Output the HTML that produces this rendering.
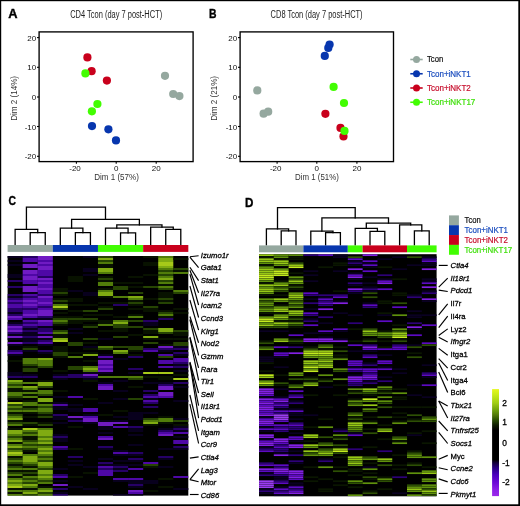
<!DOCTYPE html>
<html><head><meta charset="utf-8"><style>
html,body{margin:0;padding:0;background:#fff;}
body{width:520px;height:506px;overflow:hidden;font-family:"Liberation Sans",sans-serif;}
svg{display:block;will-change:transform;}
</style></head><body>
<svg width="520" height="506" viewBox="0 0 520 506">
<rect width="520" height="506" fill="#fff"/>
<g font-family="Liberation Sans, sans-serif">
<text x="8.3" y="17.7" font-size="12" fill="#000" font-weight="bold" textLength="9.3" lengthAdjust="spacingAndGlyphs" stroke="#000" stroke-width="0.35">A</text>
<text x="209.1" y="17.6" font-size="12" fill="#000" font-weight="bold" textLength="7.5" lengthAdjust="spacingAndGlyphs" stroke="#000" stroke-width="0.35">B</text>
<text x="8.5" y="205.2" font-size="12" fill="#000" font-weight="bold" textLength="7.5" lengthAdjust="spacingAndGlyphs" stroke="#000" stroke-width="0.35">C</text>
<text x="245.0" y="206.7" font-size="12" fill="#000" font-weight="bold" textLength="8.4" lengthAdjust="spacingAndGlyphs" stroke="#000" stroke-width="0.35">D</text>
<text x="70.2" y="17.5" font-size="10" fill="#222" textLength="92" lengthAdjust="spacingAndGlyphs">CD4 Tcon (day 7 post-HCT)</text>
<text x="270.6" y="17.5" font-size="10" fill="#222" textLength="92" lengthAdjust="spacingAndGlyphs">CD8 Tcon (day 7 post-HCT)</text>
<rect x="39.1" y="31.9" width="154.0" height="129.7" fill="none" stroke="#000" stroke-width="1.35"/>
<line x1="37.0" y1="37.6" x2="39.1" y2="37.6" stroke="#000" stroke-width="1.1"/>
<text x="36.2" y="40.7" font-size="8" fill="#111" text-anchor="end">20</text>
<line x1="37.0" y1="67.3" x2="39.1" y2="67.3" stroke="#000" stroke-width="1.1"/>
<text x="36.2" y="70.39999999999999" font-size="8" fill="#111" text-anchor="end">10</text>
<line x1="37.0" y1="97.0" x2="39.1" y2="97.0" stroke="#000" stroke-width="1.1"/>
<text x="36.2" y="100.1" font-size="8" fill="#111" text-anchor="end">0</text>
<line x1="37.0" y1="126.5" x2="39.1" y2="126.5" stroke="#000" stroke-width="1.1"/>
<text x="36.2" y="129.6" font-size="8" fill="#111" text-anchor="end">-10</text>
<line x1="37.0" y1="156.3" x2="39.1" y2="156.3" stroke="#000" stroke-width="1.1"/>
<text x="36.2" y="159.4" font-size="8" fill="#111" text-anchor="end">-20</text>
<line x1="76.4" y1="161.6" x2="76.4" y2="163.7" stroke="#000" stroke-width="1.1"/>
<text x="75.0" y="170.9" font-size="8" fill="#111" text-anchor="middle">-20</text>
<line x1="116.2" y1="161.6" x2="116.2" y2="163.7" stroke="#000" stroke-width="1.1"/>
<text x="116.2" y="170.9" font-size="8" fill="#111" text-anchor="middle">0</text>
<line x1="156.2" y1="161.6" x2="156.2" y2="163.7" stroke="#000" stroke-width="1.1"/>
<text x="156.2" y="170.9" font-size="8" fill="#111" text-anchor="middle">20</text>
<text x="94.2" y="180.2" font-size="9.4" fill="#333" textLength="44.7" lengthAdjust="spacingAndGlyphs">Dim 1 (57%)</text>
<text transform="translate(16.8,120.8) rotate(-90)" font-size="9.4" fill="#333" textLength="44.8" lengthAdjust="spacingAndGlyphs">Dim 2 (14%)</text>
<circle cx="165" cy="75.8" r="4.1" fill="#95a89f"/>
<circle cx="173.2" cy="94" r="4.1" fill="#95a89f"/>
<circle cx="179.4" cy="96.1" r="4.1" fill="#95a89f"/>
<circle cx="92" cy="126.1" r="4.1" fill="#0736ae"/>
<circle cx="108.4" cy="129.3" r="4.1" fill="#0736ae"/>
<circle cx="116" cy="140.4" r="4.1" fill="#0736ae"/>
<circle cx="87.4" cy="57.4" r="4.1" fill="#c9001c"/>
<circle cx="91.6" cy="71.2" r="4.1" fill="#c9001c"/>
<circle cx="106.9" cy="80.6" r="4.1" fill="#c9001c"/>
<circle cx="85.4" cy="73.4" r="4.1" fill="#42fd02"/>
<circle cx="97.4" cy="104" r="4.1" fill="#42fd02"/>
<circle cx="91.9" cy="111.3" r="4.1" fill="#42fd02"/>
<rect x="240.1" y="31.9" width="153.4" height="129.7" fill="none" stroke="#000" stroke-width="1.35"/>
<line x1="238.0" y1="37.6" x2="240.1" y2="37.6" stroke="#000" stroke-width="1.1"/>
<text x="237.2" y="40.7" font-size="8" fill="#111" text-anchor="end">20</text>
<line x1="238.0" y1="67.3" x2="240.1" y2="67.3" stroke="#000" stroke-width="1.1"/>
<text x="237.2" y="70.39999999999999" font-size="8" fill="#111" text-anchor="end">10</text>
<line x1="238.0" y1="97.0" x2="240.1" y2="97.0" stroke="#000" stroke-width="1.1"/>
<text x="237.2" y="100.1" font-size="8" fill="#111" text-anchor="end">0</text>
<line x1="238.0" y1="126.5" x2="240.1" y2="126.5" stroke="#000" stroke-width="1.1"/>
<text x="237.2" y="129.6" font-size="8" fill="#111" text-anchor="end">-10</text>
<line x1="238.0" y1="156.3" x2="240.1" y2="156.3" stroke="#000" stroke-width="1.1"/>
<text x="237.2" y="159.4" font-size="8" fill="#111" text-anchor="end">-20</text>
<line x1="277.1" y1="161.6" x2="277.1" y2="163.7" stroke="#000" stroke-width="1.1"/>
<text x="275.70000000000005" y="170.9" font-size="8" fill="#111" text-anchor="middle">-20</text>
<line x1="316.8" y1="161.6" x2="316.8" y2="163.7" stroke="#000" stroke-width="1.1"/>
<text x="316.8" y="170.9" font-size="8" fill="#111" text-anchor="middle">0</text>
<line x1="356.9" y1="161.6" x2="356.9" y2="163.7" stroke="#000" stroke-width="1.1"/>
<text x="356.9" y="170.9" font-size="8" fill="#111" text-anchor="middle">20</text>
<text x="295" y="180.2" font-size="9.4" fill="#333" textLength="43.8" lengthAdjust="spacingAndGlyphs">Dim 1 (51%)</text>
<text transform="translate(216.8,120.8) rotate(-90)" font-size="9.4" fill="#333" textLength="44.8" lengthAdjust="spacingAndGlyphs">Dim 2 (21%)</text>
<circle cx="257.3" cy="90.4" r="4.1" fill="#95a89f"/>
<circle cx="263.6" cy="113.7" r="4.1" fill="#95a89f"/>
<circle cx="268.2" cy="111.7" r="4.1" fill="#95a89f"/>
<circle cx="329.6" cy="44.6" r="4.1" fill="#0736ae"/>
<circle cx="328.3" cy="47.9" r="4.1" fill="#0736ae"/>
<circle cx="324.8" cy="55.9" r="4.1" fill="#0736ae"/>
<circle cx="325.4" cy="113.8" r="4.1" fill="#c9001c"/>
<circle cx="340.5" cy="127.9" r="4.1" fill="#c9001c"/>
<circle cx="343.5" cy="136.4" r="4.1" fill="#c9001c"/>
<circle cx="333.6" cy="86.9" r="4.1" fill="#42fd02"/>
<circle cx="344.0" cy="103.0" r="4.1" fill="#42fd02"/>
<circle cx="344.5" cy="130.9" r="4.1" fill="#42fd02"/>
<line x1="410.3" y1="59.5" x2="422.7" y2="59.5" stroke="#95a89f" stroke-width="1.6"/>
<circle cx="416.5" cy="59.5" r="3.5" fill="#95a89f"/>
<text x="427.0" y="62.3" font-size="8.8" fill="#111" textLength="16.2" lengthAdjust="spacingAndGlyphs" stroke="#111" stroke-width="0.22">Tcon</text>
<line x1="410.3" y1="73.75" x2="422.7" y2="73.75" stroke="#0736ae" stroke-width="1.6"/>
<circle cx="416.5" cy="73.75" r="3.5" fill="#0736ae"/>
<text x="427.0" y="76.55" font-size="8.8" fill="#1d4fbf" textLength="43.8" lengthAdjust="spacingAndGlyphs" stroke="#1d4fbf" stroke-width="0.22">Tcon+iNKT1</text>
<line x1="410.3" y1="88.0" x2="422.7" y2="88.0" stroke="#c9001c" stroke-width="1.6"/>
<circle cx="416.5" cy="88.0" r="3.5" fill="#c9001c"/>
<text x="427.0" y="90.8" font-size="8.8" fill="#c8102e" textLength="43.8" lengthAdjust="spacingAndGlyphs" stroke="#c8102e" stroke-width="0.22">Tcon+iNKT2</text>
<line x1="410.3" y1="102.25" x2="422.7" y2="102.25" stroke="#42fd02" stroke-width="1.6"/>
<circle cx="416.5" cy="102.25" r="3.5" fill="#42fd02"/>
<text x="427.0" y="105.05" font-size="8.8" fill="#44e010" textLength="48.3" lengthAdjust="spacingAndGlyphs" stroke="#44e010" stroke-width="0.22">Tcon+iNKT17</text>
<path d="M30.189999999999998,244.8V232.7H45.25V244.8" fill="none" stroke="#000" stroke-width="1.3" stroke-linecap="square"/>
<path d="M15.129999999999999,244.8V229.4H37.72V232.7" fill="none" stroke="#000" stroke-width="1.3" stroke-linecap="square"/>
<path d="M75.36999999999999,244.8V232.7H90.42999999999999V244.8" fill="none" stroke="#000" stroke-width="1.3" stroke-linecap="square"/>
<path d="M60.31,244.8V228.2H82.89999999999999V232.7" fill="none" stroke="#000" stroke-width="1.3" stroke-linecap="square"/>
<path d="M120.55,244.8V232.8H135.60999999999999V244.8" fill="none" stroke="#000" stroke-width="1.3" stroke-linecap="square"/>
<path d="M105.49,244.8V228.2H128.07999999999998V232.8" fill="none" stroke="#000" stroke-width="1.3" stroke-linecap="square"/>
<path d="M165.73,244.8V229.4H180.79V244.8" fill="none" stroke="#000" stroke-width="1.3" stroke-linecap="square"/>
<path d="M150.67,244.8V227.1H173.26V229.4" fill="none" stroke="#000" stroke-width="1.3" stroke-linecap="square"/>
<path d="M116.785,228.2V224.8H161.96499999999997V227.1" fill="none" stroke="#000" stroke-width="1.3" stroke-linecap="square"/>
<path d="M71.60499999999999,228.2V219.4H139.375V224.8" fill="none" stroke="#000" stroke-width="1.3" stroke-linecap="square"/>
<path d="M26.424999999999997,229.4V207.2H105.49V219.4" fill="none" stroke="#000" stroke-width="1.3" stroke-linecap="square"/>
<path d="M281.2,244.8V230.8H296.0V244.8" fill="none" stroke="#000" stroke-width="1.3" stroke-linecap="square"/>
<path d="M266.4,244.8V228.8H288.6V230.8" fill="none" stroke="#000" stroke-width="1.3" stroke-linecap="square"/>
<path d="M325.6,244.8V232.7H340.4V244.8" fill="none" stroke="#000" stroke-width="1.3" stroke-linecap="square"/>
<path d="M310.8,244.8V231.1H333.0V232.7" fill="none" stroke="#000" stroke-width="1.3" stroke-linecap="square"/>
<path d="M370.0,244.8V231.3H384.8V244.8" fill="none" stroke="#000" stroke-width="1.3" stroke-linecap="square"/>
<path d="M355.2,244.8V228.4H377.4V231.3" fill="none" stroke="#000" stroke-width="1.3" stroke-linecap="square"/>
<path d="M414.4,244.8V230.8H429.20000000000005V244.8" fill="none" stroke="#000" stroke-width="1.3" stroke-linecap="square"/>
<path d="M399.6,244.8V224.8H421.8V230.8" fill="none" stroke="#000" stroke-width="1.3" stroke-linecap="square"/>
<path d="M366.29999999999995,228.4V223.2H410.70000000000005V224.8" fill="none" stroke="#000" stroke-width="1.3" stroke-linecap="square"/>
<path d="M321.9,231.1V217.8H388.5V223.2" fill="none" stroke="#000" stroke-width="1.3" stroke-linecap="square"/>
<path d="M277.5,228.8V207.6H355.2V217.8" fill="none" stroke="#000" stroke-width="1.3" stroke-linecap="square"/>
<rect x="7.6" y="245.0" width="45.18" height="6.9" fill="#95a89f"/>
<rect x="52.78" y="245.0" width="45.18" height="6.9" fill="#0736ae"/>
<rect x="97.96" y="245.0" width="45.18" height="6.9" fill="#42fd02"/>
<rect x="143.14" y="245.0" width="45.18" height="6.9" fill="#c9001c"/>
<rect x="259.0" y="245.4" width="44.4" height="6.9" fill="#95a89f"/>
<rect x="303.4" y="245.4" width="44.4" height="6.9" fill="#0736ae"/>
<rect x="347.8" y="245.4" width="14.8" height="6.9" fill="#42fd02"/>
<rect x="362.6" y="245.4" width="44.4" height="6.9" fill="#c9001c"/>
<rect x="407.0" y="245.4" width="29.6" height="6.9" fill="#42fd02"/>
<rect x="7.6" y="256.0" width="180.72" height="239.6" fill="#000"/>
<rect x="7.6" y="256.15" width="15.11" height="1.7" fill="#0a0022"/>
<rect x="7.6" y="260.15" width="15.11" height="1.7" fill="#0a0022"/>
<rect x="7.6" y="264.15" width="15.11" height="1.7" fill="#0a0022"/>
<rect x="7.6" y="274.15" width="15.11" height="1.7" fill="#0a0022"/>
<rect x="7.6" y="276.15" width="15.11" height="1.7" fill="#0a0022"/>
<rect x="7.6" y="280.15" width="15.11" height="1.7" fill="#2d0078"/>
<rect x="7.6" y="286.15" width="15.11" height="1.7" fill="#2d0078"/>
<rect x="7.6" y="294.15" width="15.11" height="1.7" fill="#2d0078"/>
<rect x="7.6" y="296.15" width="15.11" height="1.7" fill="#0a0022"/>
<rect x="7.6" y="298.15" width="15.11" height="1.7" fill="#2d0078"/>
<rect x="7.6" y="300.15" width="15.11" height="1.7" fill="#5c0ac3"/>
<rect x="7.6" y="302.15" width="15.11" height="1.7" fill="#2d0078"/>
<rect x="7.6" y="304.15" width="15.11" height="1.7" fill="#5c0ac3"/>
<rect x="7.6" y="306.15" width="15.11" height="1.7" fill="#5c0ac3"/>
<rect x="7.6" y="308.15" width="15.11" height="1.7" fill="#2d0078"/>
<rect x="7.6" y="310.15" width="15.11" height="1.7" fill="#2d0078"/>
<rect x="7.6" y="312.15" width="15.11" height="1.7" fill="#0a0022"/>
<rect x="7.6" y="314.15" width="15.11" height="1.7" fill="#2d0078"/>
<rect x="7.6" y="316.15" width="15.11" height="1.7" fill="#8320e4"/>
<rect x="7.6" y="318.15" width="15.11" height="1.7" fill="#5c0ac3"/>
<rect x="7.6" y="322.15" width="15.11" height="1.7" fill="#0a0022"/>
<rect x="7.6" y="324.15" width="15.11" height="1.7" fill="#2d0078"/>
<rect x="7.6" y="326.15" width="15.11" height="1.7" fill="#8320e4"/>
<rect x="7.6" y="328.15" width="15.11" height="1.7" fill="#5c0ac3"/>
<rect x="7.6" y="330.15" width="15.11" height="1.7" fill="#8320e4"/>
<rect x="7.6" y="332.15" width="15.11" height="1.7" fill="#2d0078"/>
<rect x="7.6" y="334.15" width="15.11" height="1.7" fill="#0a0022"/>
<rect x="7.6" y="336.15" width="15.11" height="1.7" fill="#8320e4"/>
<rect x="7.6" y="338.15" width="15.11" height="1.7" fill="#0a0022"/>
<rect x="7.6" y="342.15" width="15.11" height="1.7" fill="#8320e4"/>
<rect x="7.6" y="344.15" width="15.11" height="1.7" fill="#0a0022"/>
<rect x="7.6" y="350.15" width="15.11" height="1.7" fill="#2d0078"/>
<rect x="7.6" y="352.15" width="15.11" height="1.7" fill="#5c0ac3"/>
<rect x="7.6" y="354.15" width="15.11" height="1.7" fill="#0a0022"/>
<rect x="7.6" y="360.15" width="15.11" height="1.7" fill="#0a1600"/>
<rect x="7.6" y="372.15" width="15.11" height="1.7" fill="#0a0022"/>
<rect x="7.6" y="374.15" width="15.11" height="1.7" fill="#0a0022"/>
<rect x="7.6" y="376.15" width="15.11" height="1.7" fill="#2d0078"/>
<rect x="7.6" y="380.15" width="15.11" height="1.7" fill="#96c816"/>
<rect x="7.6" y="382.15" width="15.11" height="1.7" fill="#5f910c"/>
<rect x="7.6" y="384.15" width="15.11" height="1.7" fill="#2d5004"/>
<rect x="7.6" y="386.15" width="15.11" height="1.7" fill="#5f910c"/>
<rect x="7.6" y="388.15" width="15.11" height="1.7" fill="#0a1600"/>
<rect x="7.6" y="390.15" width="15.11" height="1.7" fill="#0a1600"/>
<rect x="7.6" y="392.15" width="15.11" height="1.7" fill="#5f910c"/>
<rect x="7.6" y="394.15" width="15.11" height="1.7" fill="#5f910c"/>
<rect x="7.6" y="396.15" width="15.11" height="1.7" fill="#2d5004"/>
<rect x="7.6" y="398.15" width="15.11" height="1.7" fill="#0a1600"/>
<rect x="7.6" y="402.15" width="15.11" height="1.7" fill="#c3eb1e"/>
<rect x="7.6" y="404.15" width="15.11" height="1.7" fill="#2d5004"/>
<rect x="7.6" y="406.15" width="15.11" height="1.7" fill="#5f910c"/>
<rect x="7.6" y="408.15" width="15.11" height="1.7" fill="#2d5004"/>
<rect x="7.6" y="410.15" width="15.11" height="1.7" fill="#5f910c"/>
<rect x="7.6" y="412.15" width="15.11" height="1.7" fill="#0a1600"/>
<rect x="7.6" y="414.15" width="15.11" height="1.7" fill="#2d5004"/>
<rect x="7.6" y="416.15" width="15.11" height="1.7" fill="#5f910c"/>
<rect x="7.6" y="418.15" width="15.11" height="1.7" fill="#96c816"/>
<rect x="7.6" y="420.15" width="15.11" height="1.7" fill="#0a1600"/>
<rect x="7.6" y="422.15" width="15.11" height="1.7" fill="#2d5004"/>
<rect x="7.6" y="424.15" width="15.11" height="1.7" fill="#5f910c"/>
<rect x="7.6" y="428.15" width="15.11" height="1.7" fill="#0a1600"/>
<rect x="7.6" y="430.15" width="15.11" height="1.7" fill="#96c816"/>
<rect x="7.6" y="432.15" width="15.11" height="1.7" fill="#96c816"/>
<rect x="7.6" y="434.15" width="15.11" height="1.7" fill="#5f910c"/>
<rect x="7.6" y="436.15" width="15.11" height="1.7" fill="#2d5004"/>
<rect x="7.6" y="438.15" width="15.11" height="1.7" fill="#5f910c"/>
<rect x="7.6" y="440.15" width="15.11" height="1.7" fill="#96c816"/>
<rect x="7.6" y="442.15" width="15.11" height="1.7" fill="#0a1600"/>
<rect x="7.6" y="444.15" width="15.11" height="1.7" fill="#5f910c"/>
<rect x="7.6" y="446.15" width="15.11" height="1.7" fill="#96c816"/>
<rect x="7.6" y="448.15" width="15.11" height="1.7" fill="#2d5004"/>
<rect x="7.6" y="450.15" width="15.11" height="1.7" fill="#5f910c"/>
<rect x="7.6" y="452.15" width="15.11" height="1.7" fill="#c3eb1e"/>
<rect x="7.6" y="454.15" width="15.11" height="1.7" fill="#96c816"/>
<rect x="7.6" y="456.15" width="15.11" height="1.7" fill="#0a1600"/>
<rect x="7.6" y="458.15" width="15.11" height="1.7" fill="#2d5004"/>
<rect x="7.6" y="460.15" width="15.11" height="1.7" fill="#5f910c"/>
<rect x="7.6" y="462.15" width="15.11" height="1.7" fill="#2d5004"/>
<rect x="7.6" y="464.15" width="15.11" height="1.7" fill="#0a1600"/>
<rect x="7.6" y="466.15" width="15.11" height="1.7" fill="#2d5004"/>
<rect x="7.6" y="468.15" width="15.11" height="1.7" fill="#5f910c"/>
<rect x="7.6" y="470.15" width="15.11" height="1.7" fill="#0a1600"/>
<rect x="7.6" y="472.15" width="15.11" height="1.7" fill="#2d5004"/>
<rect x="7.6" y="474.15" width="15.11" height="1.7" fill="#5f910c"/>
<rect x="7.6" y="476.15" width="15.11" height="1.7" fill="#0a1600"/>
<rect x="7.6" y="478.15" width="15.11" height="1.7" fill="#5f910c"/>
<rect x="7.6" y="480.15" width="15.11" height="1.7" fill="#96c816"/>
<rect x="7.6" y="482.15" width="15.11" height="1.7" fill="#5f910c"/>
<rect x="7.6" y="484.15" width="15.11" height="1.7" fill="#96c816"/>
<rect x="7.6" y="486.15" width="15.11" height="1.7" fill="#c3eb1e"/>
<rect x="7.6" y="488.15" width="15.11" height="1.7" fill="#0a1600"/>
<rect x="7.6" y="490.15" width="15.11" height="1.7" fill="#5f910c"/>
<rect x="7.6" y="492.15" width="15.11" height="1.7" fill="#0a1600"/>
<rect x="7.6" y="494.15" width="15.11" height="1.45" fill="#5f910c"/>
<rect x="22.66" y="256.15" width="15.11" height="1.7" fill="#2d0078"/>
<rect x="22.66" y="258.15" width="15.11" height="1.7" fill="#5c0ac3"/>
<rect x="22.66" y="260.15" width="15.11" height="1.7" fill="#5c0ac3"/>
<rect x="22.66" y="262.15" width="15.11" height="1.7" fill="#0a0022"/>
<rect x="22.66" y="264.15" width="15.11" height="1.7" fill="#8320e4"/>
<rect x="22.66" y="266.15" width="15.11" height="1.7" fill="#8320e4"/>
<rect x="22.66" y="268.15" width="15.11" height="1.7" fill="#0a0022"/>
<rect x="22.66" y="270.15" width="15.11" height="1.7" fill="#8320e4"/>
<rect x="22.66" y="272.15" width="15.11" height="1.7" fill="#8320e4"/>
<rect x="22.66" y="274.15" width="15.11" height="1.7" fill="#5c0ac3"/>
<rect x="22.66" y="276.15" width="15.11" height="1.7" fill="#8320e4"/>
<rect x="22.66" y="278.15" width="15.11" height="1.7" fill="#8320e4"/>
<rect x="22.66" y="280.15" width="15.11" height="1.7" fill="#5c0ac3"/>
<rect x="22.66" y="282.15" width="15.11" height="1.7" fill="#5c0ac3"/>
<rect x="22.66" y="284.15" width="15.11" height="1.7" fill="#0a0022"/>
<rect x="22.66" y="286.15" width="15.11" height="1.7" fill="#8320e4"/>
<rect x="22.66" y="288.15" width="15.11" height="1.7" fill="#8320e4"/>
<rect x="22.66" y="290.15" width="15.11" height="1.7" fill="#8320e4"/>
<rect x="22.66" y="292.15" width="15.11" height="1.7" fill="#0a0022"/>
<rect x="22.66" y="294.15" width="15.11" height="1.7" fill="#5c0ac3"/>
<rect x="22.66" y="296.15" width="15.11" height="1.7" fill="#2d0078"/>
<rect x="22.66" y="298.15" width="15.11" height="1.7" fill="#5c0ac3"/>
<rect x="22.66" y="300.15" width="15.11" height="1.7" fill="#8320e4"/>
<rect x="22.66" y="302.15" width="15.11" height="1.7" fill="#5c0ac3"/>
<rect x="22.66" y="304.15" width="15.11" height="1.7" fill="#8320e4"/>
<rect x="22.66" y="306.15" width="15.11" height="1.7" fill="#5c0ac3"/>
<rect x="22.66" y="308.15" width="15.11" height="1.7" fill="#2d0078"/>
<rect x="22.66" y="310.15" width="15.11" height="1.7" fill="#5c0ac3"/>
<rect x="22.66" y="312.15" width="15.11" height="1.7" fill="#5c0ac3"/>
<rect x="22.66" y="314.15" width="15.11" height="1.7" fill="#8320e4"/>
<rect x="22.66" y="316.15" width="15.11" height="1.7" fill="#5c0ac3"/>
<rect x="22.66" y="318.15" width="15.11" height="1.7" fill="#0a0022"/>
<rect x="22.66" y="320.15" width="15.11" height="1.7" fill="#5c0ac3"/>
<rect x="22.66" y="322.15" width="15.11" height="1.7" fill="#2d0078"/>
<rect x="22.66" y="324.15" width="15.11" height="1.7" fill="#5c0ac3"/>
<rect x="22.66" y="326.15" width="15.11" height="1.7" fill="#2d0078"/>
<rect x="22.66" y="328.15" width="15.11" height="1.7" fill="#0a0022"/>
<rect x="22.66" y="330.15" width="15.11" height="1.7" fill="#2d0078"/>
<rect x="22.66" y="332.15" width="15.11" height="1.7" fill="#0a0022"/>
<rect x="22.66" y="334.15" width="15.11" height="1.7" fill="#0a0022"/>
<rect x="22.66" y="336.15" width="15.11" height="1.7" fill="#2d0078"/>
<rect x="22.66" y="338.15" width="15.11" height="1.7" fill="#0a0022"/>
<rect x="22.66" y="340.15" width="15.11" height="1.7" fill="#0a0022"/>
<rect x="22.66" y="342.15" width="15.11" height="1.7" fill="#2d0078"/>
<rect x="22.66" y="346.15" width="15.11" height="1.7" fill="#0a1600"/>
<rect x="22.66" y="348.15" width="15.11" height="1.7" fill="#2d5004"/>
<rect x="22.66" y="350.15" width="15.11" height="1.7" fill="#0a0022"/>
<rect x="22.66" y="358.15" width="15.11" height="1.7" fill="#5f910c"/>
<rect x="22.66" y="360.15" width="15.11" height="1.7" fill="#5f910c"/>
<rect x="22.66" y="362.15" width="15.11" height="1.7" fill="#5f910c"/>
<rect x="22.66" y="364.15" width="15.11" height="1.7" fill="#2d5004"/>
<rect x="22.66" y="366.15" width="15.11" height="1.7" fill="#0a1600"/>
<rect x="22.66" y="368.15" width="15.11" height="1.7" fill="#2d5004"/>
<rect x="22.66" y="370.15" width="15.11" height="1.7" fill="#2d5004"/>
<rect x="22.66" y="374.15" width="15.11" height="1.7" fill="#0a0022"/>
<rect x="22.66" y="376.15" width="15.11" height="1.7" fill="#2d0078"/>
<rect x="22.66" y="382.15" width="15.11" height="1.7" fill="#5f910c"/>
<rect x="22.66" y="386.15" width="15.11" height="1.7" fill="#96c816"/>
<rect x="22.66" y="388.15" width="15.11" height="1.7" fill="#5f910c"/>
<rect x="22.66" y="390.15" width="15.11" height="1.7" fill="#0a1600"/>
<rect x="22.66" y="392.15" width="15.11" height="1.7" fill="#5f910c"/>
<rect x="22.66" y="394.15" width="15.11" height="1.7" fill="#0a1600"/>
<rect x="22.66" y="396.15" width="15.11" height="1.7" fill="#5f910c"/>
<rect x="22.66" y="400.15" width="15.11" height="1.7" fill="#0a1600"/>
<rect x="22.66" y="402.15" width="15.11" height="1.7" fill="#5f910c"/>
<rect x="22.66" y="404.15" width="15.11" height="1.7" fill="#5f910c"/>
<rect x="22.66" y="406.15" width="15.11" height="1.7" fill="#0a1600"/>
<rect x="22.66" y="408.15" width="15.11" height="1.7" fill="#2d5004"/>
<rect x="22.66" y="410.15" width="15.11" height="1.7" fill="#5f910c"/>
<rect x="22.66" y="412.15" width="15.11" height="1.7" fill="#0a1600"/>
<rect x="22.66" y="416.15" width="15.11" height="1.7" fill="#0a1600"/>
<rect x="22.66" y="422.15" width="15.11" height="1.7" fill="#2d5004"/>
<rect x="22.66" y="424.15" width="15.11" height="1.7" fill="#0a1600"/>
<rect x="22.66" y="428.15" width="15.11" height="1.7" fill="#c3eb1e"/>
<rect x="22.66" y="430.15" width="15.11" height="1.7" fill="#5f910c"/>
<rect x="22.66" y="432.15" width="15.11" height="1.7" fill="#2d5004"/>
<rect x="22.66" y="434.15" width="15.11" height="1.7" fill="#5f910c"/>
<rect x="22.66" y="436.15" width="15.11" height="1.7" fill="#0a1600"/>
<rect x="22.66" y="438.15" width="15.11" height="1.7" fill="#0a1600"/>
<rect x="22.66" y="440.15" width="15.11" height="1.7" fill="#2d5004"/>
<rect x="22.66" y="442.15" width="15.11" height="1.7" fill="#5f910c"/>
<rect x="22.66" y="444.15" width="15.11" height="1.7" fill="#2d5004"/>
<rect x="22.66" y="446.15" width="15.11" height="1.7" fill="#5f910c"/>
<rect x="22.66" y="448.15" width="15.11" height="1.7" fill="#2d5004"/>
<rect x="22.66" y="450.15" width="15.11" height="1.7" fill="#0a1600"/>
<rect x="22.66" y="454.15" width="15.11" height="1.7" fill="#5f910c"/>
<rect x="22.66" y="456.15" width="15.11" height="1.7" fill="#96c816"/>
<rect x="22.66" y="458.15" width="15.11" height="1.7" fill="#96c816"/>
<rect x="22.66" y="460.15" width="15.11" height="1.7" fill="#96c816"/>
<rect x="22.66" y="462.15" width="15.11" height="1.7" fill="#5f910c"/>
<rect x="22.66" y="464.15" width="15.11" height="1.7" fill="#2d5004"/>
<rect x="22.66" y="466.15" width="15.11" height="1.7" fill="#0a1600"/>
<rect x="22.66" y="468.15" width="15.11" height="1.7" fill="#5f910c"/>
<rect x="22.66" y="470.15" width="15.11" height="1.7" fill="#0a1600"/>
<rect x="22.66" y="472.15" width="15.11" height="1.7" fill="#2d5004"/>
<rect x="22.66" y="474.15" width="15.11" height="1.7" fill="#0a1600"/>
<rect x="22.66" y="476.15" width="15.11" height="1.7" fill="#5f910c"/>
<rect x="22.66" y="478.15" width="15.11" height="1.7" fill="#2d5004"/>
<rect x="22.66" y="480.15" width="15.11" height="1.7" fill="#5f910c"/>
<rect x="22.66" y="482.15" width="15.11" height="1.7" fill="#2d5004"/>
<rect x="22.66" y="484.15" width="15.11" height="1.7" fill="#96c816"/>
<rect x="22.66" y="486.15" width="15.11" height="1.7" fill="#5f910c"/>
<rect x="22.66" y="488.15" width="15.11" height="1.7" fill="#0a1600"/>
<rect x="22.66" y="490.15" width="15.11" height="1.7" fill="#5f910c"/>
<rect x="22.66" y="492.15" width="15.11" height="1.7" fill="#96c816"/>
<rect x="22.66" y="494.15" width="15.11" height="1.45" fill="#2d5004"/>
<rect x="37.72" y="256.15" width="15.11" height="1.7" fill="#8320e4"/>
<rect x="37.72" y="258.15" width="15.11" height="1.7" fill="#8320e4"/>
<rect x="37.72" y="260.15" width="15.11" height="1.7" fill="#5c0ac3"/>
<rect x="37.72" y="262.15" width="15.11" height="1.7" fill="#8320e4"/>
<rect x="37.72" y="264.15" width="15.11" height="1.7" fill="#5c0ac3"/>
<rect x="37.72" y="266.15" width="15.11" height="1.7" fill="#8320e4"/>
<rect x="37.72" y="268.15" width="15.11" height="1.7" fill="#8320e4"/>
<rect x="37.72" y="270.15" width="15.11" height="1.7" fill="#5c0ac3"/>
<rect x="37.72" y="272.15" width="15.11" height="1.7" fill="#5c0ac3"/>
<rect x="37.72" y="274.15" width="15.11" height="1.7" fill="#5c0ac3"/>
<rect x="37.72" y="276.15" width="15.11" height="1.7" fill="#2d0078"/>
<rect x="37.72" y="278.15" width="15.11" height="1.7" fill="#8320e4"/>
<rect x="37.72" y="280.15" width="15.11" height="1.7" fill="#5c0ac3"/>
<rect x="37.72" y="282.15" width="15.11" height="1.7" fill="#8320e4"/>
<rect x="37.72" y="284.15" width="15.11" height="1.7" fill="#5c0ac3"/>
<rect x="37.72" y="286.15" width="15.11" height="1.7" fill="#5c0ac3"/>
<rect x="37.72" y="288.15" width="15.11" height="1.7" fill="#8320e4"/>
<rect x="37.72" y="290.15" width="15.11" height="1.7" fill="#5c0ac3"/>
<rect x="37.72" y="292.15" width="15.11" height="1.7" fill="#5c0ac3"/>
<rect x="37.72" y="294.15" width="15.11" height="1.7" fill="#2d0078"/>
<rect x="37.72" y="296.15" width="15.11" height="1.7" fill="#8320e4"/>
<rect x="37.72" y="298.15" width="15.11" height="1.7" fill="#5c0ac3"/>
<rect x="37.72" y="300.15" width="15.11" height="1.7" fill="#5c0ac3"/>
<rect x="37.72" y="302.15" width="15.11" height="1.7" fill="#8320e4"/>
<rect x="37.72" y="304.15" width="15.11" height="1.7" fill="#5c0ac3"/>
<rect x="37.72" y="306.15" width="15.11" height="1.7" fill="#2d0078"/>
<rect x="37.72" y="308.15" width="15.11" height="1.7" fill="#5c0ac3"/>
<rect x="37.72" y="310.15" width="15.11" height="1.7" fill="#8320e4"/>
<rect x="37.72" y="312.15" width="15.11" height="1.7" fill="#8320e4"/>
<rect x="37.72" y="314.15" width="15.11" height="1.7" fill="#8320e4"/>
<rect x="37.72" y="316.15" width="15.11" height="1.7" fill="#2d0078"/>
<rect x="37.72" y="318.15" width="15.11" height="1.7" fill="#0a0022"/>
<rect x="37.72" y="320.15" width="15.11" height="1.7" fill="#8320e4"/>
<rect x="37.72" y="322.15" width="15.11" height="1.7" fill="#5c0ac3"/>
<rect x="37.72" y="324.15" width="15.11" height="1.7" fill="#5c0ac3"/>
<rect x="37.72" y="326.15" width="15.11" height="1.7" fill="#0a0022"/>
<rect x="37.72" y="328.15" width="15.11" height="1.7" fill="#2d0078"/>
<rect x="37.72" y="330.15" width="15.11" height="1.7" fill="#2d0078"/>
<rect x="37.72" y="332.15" width="15.11" height="1.7" fill="#5c0ac3"/>
<rect x="37.72" y="334.15" width="15.11" height="1.7" fill="#0a0022"/>
<rect x="37.72" y="336.15" width="15.11" height="1.7" fill="#8320e4"/>
<rect x="37.72" y="338.15" width="15.11" height="1.7" fill="#0a0022"/>
<rect x="37.72" y="340.15" width="15.11" height="1.7" fill="#2d0078"/>
<rect x="37.72" y="342.15" width="15.11" height="1.7" fill="#5c0ac3"/>
<rect x="37.72" y="344.15" width="15.11" height="1.7" fill="#0a0022"/>
<rect x="37.72" y="350.15" width="15.11" height="1.7" fill="#2d0078"/>
<rect x="37.72" y="352.15" width="15.11" height="1.7" fill="#0a0022"/>
<rect x="37.72" y="358.15" width="15.11" height="1.7" fill="#96c816"/>
<rect x="37.72" y="360.15" width="15.11" height="1.7" fill="#5f910c"/>
<rect x="37.72" y="362.15" width="15.11" height="1.7" fill="#5f910c"/>
<rect x="37.72" y="364.15" width="15.11" height="1.7" fill="#5f910c"/>
<rect x="37.72" y="366.15" width="15.11" height="1.7" fill="#2d5004"/>
<rect x="37.72" y="380.15" width="15.11" height="1.7" fill="#0a1600"/>
<rect x="37.72" y="382.15" width="15.11" height="1.7" fill="#96c816"/>
<rect x="37.72" y="384.15" width="15.11" height="1.7" fill="#96c816"/>
<rect x="37.72" y="386.15" width="15.11" height="1.7" fill="#2d5004"/>
<rect x="37.72" y="390.15" width="15.11" height="1.7" fill="#5f910c"/>
<rect x="37.72" y="392.15" width="15.11" height="1.7" fill="#5f910c"/>
<rect x="37.72" y="394.15" width="15.11" height="1.7" fill="#2d5004"/>
<rect x="37.72" y="398.15" width="15.11" height="1.7" fill="#96c816"/>
<rect x="37.72" y="400.15" width="15.11" height="1.7" fill="#96c816"/>
<rect x="37.72" y="402.15" width="15.11" height="1.7" fill="#0a1600"/>
<rect x="37.72" y="404.15" width="15.11" height="1.7" fill="#5f910c"/>
<rect x="37.72" y="406.15" width="15.11" height="1.7" fill="#2d5004"/>
<rect x="37.72" y="408.15" width="15.11" height="1.7" fill="#5f910c"/>
<rect x="37.72" y="410.15" width="15.11" height="1.7" fill="#5f910c"/>
<rect x="37.72" y="412.15" width="15.11" height="1.7" fill="#2d5004"/>
<rect x="37.72" y="414.15" width="15.11" height="1.7" fill="#0a1600"/>
<rect x="37.72" y="416.15" width="15.11" height="1.7" fill="#2d5004"/>
<rect x="37.72" y="422.15" width="15.11" height="1.7" fill="#0a1600"/>
<rect x="37.72" y="424.15" width="15.11" height="1.7" fill="#2d5004"/>
<rect x="37.72" y="428.15" width="15.11" height="1.7" fill="#5f910c"/>
<rect x="37.72" y="430.15" width="15.11" height="1.7" fill="#96c816"/>
<rect x="37.72" y="432.15" width="15.11" height="1.7" fill="#96c816"/>
<rect x="37.72" y="434.15" width="15.11" height="1.7" fill="#96c816"/>
<rect x="37.72" y="436.15" width="15.11" height="1.7" fill="#5f910c"/>
<rect x="37.72" y="438.15" width="15.11" height="1.7" fill="#96c816"/>
<rect x="37.72" y="440.15" width="15.11" height="1.7" fill="#5f910c"/>
<rect x="37.72" y="442.15" width="15.11" height="1.7" fill="#96c816"/>
<rect x="37.72" y="444.15" width="15.11" height="1.7" fill="#2d5004"/>
<rect x="37.72" y="446.15" width="15.11" height="1.7" fill="#5f910c"/>
<rect x="37.72" y="448.15" width="15.11" height="1.7" fill="#96c816"/>
<rect x="37.72" y="450.15" width="15.11" height="1.7" fill="#5f910c"/>
<rect x="37.72" y="452.15" width="15.11" height="1.7" fill="#96c816"/>
<rect x="37.72" y="454.15" width="15.11" height="1.7" fill="#5f910c"/>
<rect x="37.72" y="456.15" width="15.11" height="1.7" fill="#2d5004"/>
<rect x="37.72" y="458.15" width="15.11" height="1.7" fill="#5f910c"/>
<rect x="37.72" y="460.15" width="15.11" height="1.7" fill="#2d5004"/>
<rect x="37.72" y="462.15" width="15.11" height="1.7" fill="#96c816"/>
<rect x="37.72" y="464.15" width="15.11" height="1.7" fill="#96c816"/>
<rect x="37.72" y="466.15" width="15.11" height="1.7" fill="#5f910c"/>
<rect x="37.72" y="468.15" width="15.11" height="1.7" fill="#2d5004"/>
<rect x="37.72" y="470.15" width="15.11" height="1.7" fill="#96c816"/>
<rect x="37.72" y="472.15" width="15.11" height="1.7" fill="#96c816"/>
<rect x="37.72" y="474.15" width="15.11" height="1.7" fill="#5f910c"/>
<rect x="37.72" y="476.15" width="15.11" height="1.7" fill="#96c816"/>
<rect x="37.72" y="478.15" width="15.11" height="1.7" fill="#5f910c"/>
<rect x="37.72" y="480.15" width="15.11" height="1.7" fill="#2d5004"/>
<rect x="37.72" y="482.15" width="15.11" height="1.7" fill="#5f910c"/>
<rect x="37.72" y="486.15" width="15.11" height="1.7" fill="#0a1600"/>
<rect x="37.72" y="488.15" width="15.11" height="1.7" fill="#5f910c"/>
<rect x="37.72" y="490.15" width="15.11" height="1.7" fill="#96c816"/>
<rect x="37.72" y="492.15" width="15.11" height="1.7" fill="#2d5004"/>
<rect x="37.72" y="494.15" width="15.11" height="1.45" fill="#5f910c"/>
<rect x="52.78" y="288.15" width="15.11" height="1.7" fill="#0a1600"/>
<rect x="52.78" y="290.15" width="15.11" height="1.7" fill="#0a1600"/>
<rect x="52.78" y="292.15" width="15.11" height="1.7" fill="#2d5004"/>
<rect x="52.78" y="294.15" width="15.11" height="1.7" fill="#0a1600"/>
<rect x="52.78" y="298.15" width="15.11" height="1.7" fill="#0a1600"/>
<rect x="52.78" y="300.15" width="15.11" height="1.7" fill="#2d5004"/>
<rect x="52.78" y="302.15" width="15.11" height="1.7" fill="#0a1600"/>
<rect x="52.78" y="304.15" width="15.11" height="1.7" fill="#5f910c"/>
<rect x="52.78" y="306.15" width="15.11" height="1.7" fill="#c3eb1e"/>
<rect x="52.78" y="308.15" width="15.11" height="1.7" fill="#2d5004"/>
<rect x="52.78" y="312.15" width="15.11" height="1.7" fill="#0a1600"/>
<rect x="52.78" y="316.15" width="15.11" height="1.7" fill="#0a1600"/>
<rect x="52.78" y="318.15" width="15.11" height="1.7" fill="#2d5004"/>
<rect x="52.78" y="320.15" width="15.11" height="1.7" fill="#5f910c"/>
<rect x="52.78" y="322.15" width="15.11" height="1.7" fill="#2d5004"/>
<rect x="52.78" y="324.15" width="15.11" height="1.7" fill="#0a1600"/>
<rect x="52.78" y="330.15" width="15.11" height="1.7" fill="#2d5004"/>
<rect x="52.78" y="332.15" width="15.11" height="1.7" fill="#5f910c"/>
<rect x="52.78" y="334.15" width="15.11" height="1.7" fill="#0a1600"/>
<rect x="52.78" y="336.15" width="15.11" height="1.7" fill="#0a1600"/>
<rect x="52.78" y="338.15" width="15.11" height="1.7" fill="#96c816"/>
<rect x="52.78" y="340.15" width="15.11" height="1.7" fill="#c3eb1e"/>
<rect x="52.78" y="346.15" width="15.11" height="1.7" fill="#0a1600"/>
<rect x="52.78" y="348.15" width="15.11" height="1.7" fill="#0a1600"/>
<rect x="52.78" y="350.15" width="15.11" height="1.7" fill="#0a1600"/>
<rect x="52.78" y="352.15" width="15.11" height="1.7" fill="#2d5004"/>
<rect x="52.78" y="354.15" width="15.11" height="1.7" fill="#2d5004"/>
<rect x="52.78" y="356.15" width="15.11" height="1.7" fill="#0a1600"/>
<rect x="52.78" y="370.15" width="15.11" height="1.7" fill="#0a1600"/>
<rect x="52.78" y="374.15" width="15.11" height="1.7" fill="#0a0022"/>
<rect x="52.78" y="376.15" width="15.11" height="1.7" fill="#2d0078"/>
<rect x="52.78" y="378.15" width="15.11" height="1.7" fill="#0a0022"/>
<rect x="52.78" y="390.15" width="15.11" height="1.7" fill="#0a1600"/>
<rect x="52.78" y="396.15" width="15.11" height="1.7" fill="#0a0022"/>
<rect x="52.78" y="402.15" width="15.11" height="1.7" fill="#0a0022"/>
<rect x="52.78" y="404.15" width="15.11" height="1.7" fill="#5c0ac3"/>
<rect x="52.78" y="406.15" width="15.11" height="1.7" fill="#0a0022"/>
<rect x="52.78" y="408.15" width="15.11" height="1.7" fill="#0a0022"/>
<rect x="52.78" y="414.15" width="15.11" height="1.7" fill="#2d0078"/>
<rect x="52.78" y="416.15" width="15.11" height="1.7" fill="#0a0022"/>
<rect x="52.78" y="418.15" width="15.11" height="1.7" fill="#0a0022"/>
<rect x="52.78" y="422.15" width="15.11" height="1.7" fill="#0a0022"/>
<rect x="52.78" y="434.15" width="15.11" height="1.7" fill="#0a0022"/>
<rect x="52.78" y="436.15" width="15.11" height="1.7" fill="#2d0078"/>
<rect x="52.78" y="438.15" width="15.11" height="1.7" fill="#0a0022"/>
<rect x="52.78" y="440.15" width="15.11" height="1.7" fill="#0a0022"/>
<rect x="52.78" y="446.15" width="15.11" height="1.7" fill="#5c0ac3"/>
<rect x="52.78" y="448.15" width="15.11" height="1.7" fill="#2d0078"/>
<rect x="52.78" y="468.15" width="15.11" height="1.7" fill="#0a0022"/>
<rect x="52.78" y="474.15" width="15.11" height="1.7" fill="#2d0078"/>
<rect x="52.78" y="476.15" width="15.11" height="1.7" fill="#5c0ac3"/>
<rect x="52.78" y="480.15" width="15.11" height="1.7" fill="#0a0022"/>
<rect x="52.78" y="484.15" width="15.11" height="1.7" fill="#8320e4"/>
<rect x="52.78" y="488.15" width="15.11" height="1.7" fill="#2d0078"/>
<rect x="52.78" y="492.15" width="15.11" height="1.7" fill="#0a0022"/>
<rect x="52.78" y="494.15" width="15.11" height="1.45" fill="#2d0078"/>
<rect x="67.84" y="276.15" width="15.11" height="1.7" fill="#0a1600"/>
<rect x="67.84" y="278.15" width="15.11" height="1.7" fill="#0a1600"/>
<rect x="67.84" y="280.15" width="15.11" height="1.7" fill="#0a1600"/>
<rect x="67.84" y="290.15" width="15.11" height="1.7" fill="#0a0022"/>
<rect x="67.84" y="298.15" width="15.11" height="1.7" fill="#0a1600"/>
<rect x="67.84" y="300.15" width="15.11" height="1.7" fill="#0a1600"/>
<rect x="67.84" y="304.15" width="15.11" height="1.7" fill="#0a1600"/>
<rect x="67.84" y="310.15" width="15.11" height="1.7" fill="#0a1600"/>
<rect x="67.84" y="316.15" width="15.11" height="1.7" fill="#0a1600"/>
<rect x="67.84" y="318.15" width="15.11" height="1.7" fill="#2d5004"/>
<rect x="67.84" y="320.15" width="15.11" height="1.7" fill="#0a1600"/>
<rect x="67.84" y="322.15" width="15.11" height="1.7" fill="#0a1600"/>
<rect x="67.84" y="328.15" width="15.11" height="1.7" fill="#0a0022"/>
<rect x="67.84" y="332.15" width="15.11" height="1.7" fill="#0a0022"/>
<rect x="67.84" y="342.15" width="15.11" height="1.7" fill="#2d5004"/>
<rect x="67.84" y="344.15" width="15.11" height="1.7" fill="#2d5004"/>
<rect x="67.84" y="352.15" width="15.11" height="1.7" fill="#0a1600"/>
<rect x="67.84" y="356.15" width="15.11" height="1.7" fill="#5f910c"/>
<rect x="67.84" y="366.15" width="15.11" height="1.7" fill="#2d5004"/>
<rect x="67.84" y="368.15" width="15.11" height="1.7" fill="#2d5004"/>
<rect x="67.84" y="374.15" width="15.11" height="1.7" fill="#2d0078"/>
<rect x="67.84" y="376.15" width="15.11" height="1.7" fill="#2d0078"/>
<rect x="67.84" y="396.15" width="15.11" height="1.7" fill="#5c0ac3"/>
<rect x="67.84" y="404.15" width="15.11" height="1.7" fill="#0a0022"/>
<rect x="67.84" y="408.15" width="15.11" height="1.7" fill="#0a0022"/>
<rect x="67.84" y="410.15" width="15.11" height="1.7" fill="#0a0022"/>
<rect x="67.84" y="416.15" width="15.11" height="1.7" fill="#8320e4"/>
<rect x="67.84" y="418.15" width="15.11" height="1.7" fill="#0a0022"/>
<rect x="67.84" y="420.15" width="15.11" height="1.7" fill="#2d0078"/>
<rect x="67.84" y="426.15" width="15.11" height="1.7" fill="#0a1600"/>
<rect x="67.84" y="448.15" width="15.11" height="1.7" fill="#0a1600"/>
<rect x="67.84" y="456.15" width="15.11" height="1.7" fill="#2d0078"/>
<rect x="67.84" y="460.15" width="15.11" height="1.7" fill="#0a0022"/>
<rect x="67.84" y="464.15" width="15.11" height="1.7" fill="#0a0022"/>
<rect x="67.84" y="476.15" width="15.11" height="1.7" fill="#0a1600"/>
<rect x="67.84" y="486.15" width="15.11" height="1.7" fill="#0a0022"/>
<rect x="82.9" y="256.15" width="15.11" height="1.7" fill="#0a0022"/>
<rect x="82.9" y="268.15" width="15.11" height="1.7" fill="#0a0022"/>
<rect x="82.9" y="270.15" width="15.11" height="1.7" fill="#0a0022"/>
<rect x="82.9" y="274.15" width="15.11" height="1.7" fill="#0a0022"/>
<rect x="82.9" y="292.15" width="15.11" height="1.7" fill="#0a0022"/>
<rect x="82.9" y="294.15" width="15.11" height="1.7" fill="#0a0022"/>
<rect x="82.9" y="304.15" width="15.11" height="1.7" fill="#0a1600"/>
<rect x="82.9" y="310.15" width="15.11" height="1.7" fill="#2d5004"/>
<rect x="82.9" y="314.15" width="15.11" height="1.7" fill="#0a1600"/>
<rect x="82.9" y="318.15" width="15.11" height="1.7" fill="#2d5004"/>
<rect x="82.9" y="320.15" width="15.11" height="1.7" fill="#0a1600"/>
<rect x="82.9" y="324.15" width="15.11" height="1.7" fill="#0a1600"/>
<rect x="82.9" y="326.15" width="15.11" height="1.7" fill="#2d5004"/>
<rect x="82.9" y="338.15" width="15.11" height="1.7" fill="#2d5004"/>
<rect x="82.9" y="342.15" width="15.11" height="1.7" fill="#0a1600"/>
<rect x="82.9" y="346.15" width="15.11" height="1.7" fill="#0a0022"/>
<rect x="82.9" y="348.15" width="15.11" height="1.7" fill="#0a1600"/>
<rect x="82.9" y="352.15" width="15.11" height="1.7" fill="#0a1600"/>
<rect x="82.9" y="354.15" width="15.11" height="1.7" fill="#96c816"/>
<rect x="82.9" y="360.15" width="15.11" height="1.7" fill="#0a1600"/>
<rect x="82.9" y="366.15" width="15.11" height="1.7" fill="#5f910c"/>
<rect x="82.9" y="368.15" width="15.11" height="1.7" fill="#96c816"/>
<rect x="82.9" y="370.15" width="15.11" height="1.7" fill="#5f910c"/>
<rect x="82.9" y="372.15" width="15.11" height="1.7" fill="#0a0022"/>
<rect x="82.9" y="374.15" width="15.11" height="1.7" fill="#8320e4"/>
<rect x="82.9" y="376.15" width="15.11" height="1.7" fill="#2d0078"/>
<rect x="82.9" y="378.15" width="15.11" height="1.7" fill="#0a0022"/>
<rect x="82.9" y="380.15" width="15.11" height="1.7" fill="#0a1600"/>
<rect x="82.9" y="398.15" width="15.11" height="1.7" fill="#0a1600"/>
<rect x="82.9" y="408.15" width="15.11" height="1.7" fill="#5c0ac3"/>
<rect x="82.9" y="410.15" width="15.11" height="1.7" fill="#5c0ac3"/>
<rect x="82.9" y="414.15" width="15.11" height="1.7" fill="#0a0022"/>
<rect x="82.9" y="416.15" width="15.11" height="1.7" fill="#5c0ac3"/>
<rect x="82.9" y="418.15" width="15.11" height="1.7" fill="#8320e4"/>
<rect x="82.9" y="420.15" width="15.11" height="1.7" fill="#8320e4"/>
<rect x="82.9" y="422.15" width="15.11" height="1.7" fill="#0a0022"/>
<rect x="82.9" y="466.15" width="15.11" height="1.7" fill="#0a0022"/>
<rect x="82.9" y="472.15" width="15.11" height="1.7" fill="#0a1600"/>
<rect x="82.9" y="488.15" width="15.11" height="1.7" fill="#0a0022"/>
<rect x="97.96" y="256.15" width="15.11" height="1.7" fill="#2d5004"/>
<rect x="97.96" y="258.15" width="15.11" height="1.7" fill="#96c816"/>
<rect x="97.96" y="260.15" width="15.11" height="1.7" fill="#2d5004"/>
<rect x="97.96" y="262.15" width="15.11" height="1.7" fill="#5f910c"/>
<rect x="97.96" y="264.15" width="15.11" height="1.7" fill="#0a1600"/>
<rect x="97.96" y="266.15" width="15.11" height="1.7" fill="#0a1600"/>
<rect x="97.96" y="268.15" width="15.11" height="1.7" fill="#96c816"/>
<rect x="97.96" y="270.15" width="15.11" height="1.7" fill="#96c816"/>
<rect x="97.96" y="272.15" width="15.11" height="1.7" fill="#5f910c"/>
<rect x="97.96" y="276.15" width="15.11" height="1.7" fill="#0a1600"/>
<rect x="97.96" y="278.15" width="15.11" height="1.7" fill="#2d5004"/>
<rect x="97.96" y="280.15" width="15.11" height="1.7" fill="#0a1600"/>
<rect x="97.96" y="282.15" width="15.11" height="1.7" fill="#5f910c"/>
<rect x="97.96" y="284.15" width="15.11" height="1.7" fill="#5f910c"/>
<rect x="97.96" y="288.15" width="15.11" height="1.7" fill="#0a1600"/>
<rect x="97.96" y="290.15" width="15.11" height="1.7" fill="#5f910c"/>
<rect x="97.96" y="292.15" width="15.11" height="1.7" fill="#96c816"/>
<rect x="97.96" y="294.15" width="15.11" height="1.7" fill="#96c816"/>
<rect x="97.96" y="296.15" width="15.11" height="1.7" fill="#0a1600"/>
<rect x="97.96" y="302.15" width="15.11" height="1.7" fill="#0a1600"/>
<rect x="97.96" y="306.15" width="15.11" height="1.7" fill="#0a1600"/>
<rect x="97.96" y="308.15" width="15.11" height="1.7" fill="#2d5004"/>
<rect x="97.96" y="314.15" width="15.11" height="1.7" fill="#0a1600"/>
<rect x="97.96" y="320.15" width="15.11" height="1.7" fill="#0a1600"/>
<rect x="97.96" y="322.15" width="15.11" height="1.7" fill="#0a1600"/>
<rect x="97.96" y="324.15" width="15.11" height="1.7" fill="#5f910c"/>
<rect x="97.96" y="330.15" width="15.11" height="1.7" fill="#0a1600"/>
<rect x="97.96" y="338.15" width="15.11" height="1.7" fill="#0a0022"/>
<rect x="97.96" y="346.15" width="15.11" height="1.7" fill="#5f910c"/>
<rect x="97.96" y="348.15" width="15.11" height="1.7" fill="#2d5004"/>
<rect x="97.96" y="354.15" width="15.11" height="1.7" fill="#0a0022"/>
<rect x="97.96" y="356.15" width="15.11" height="1.7" fill="#5c0ac3"/>
<rect x="97.96" y="358.15" width="15.11" height="1.7" fill="#0a0022"/>
<rect x="97.96" y="360.15" width="15.11" height="1.7" fill="#8320e4"/>
<rect x="97.96" y="362.15" width="15.11" height="1.7" fill="#8320e4"/>
<rect x="97.96" y="364.15" width="15.11" height="1.7" fill="#5c0ac3"/>
<rect x="97.96" y="366.15" width="15.11" height="1.7" fill="#8320e4"/>
<rect x="97.96" y="368.15" width="15.11" height="1.7" fill="#5c0ac3"/>
<rect x="97.96" y="370.15" width="15.11" height="1.7" fill="#8320e4"/>
<rect x="97.96" y="372.15" width="15.11" height="1.7" fill="#0a0022"/>
<rect x="97.96" y="376.15" width="15.11" height="1.7" fill="#5f910c"/>
<rect x="97.96" y="382.15" width="15.11" height="1.7" fill="#0a0022"/>
<rect x="97.96" y="384.15" width="15.11" height="1.7" fill="#5c0ac3"/>
<rect x="97.96" y="386.15" width="15.11" height="1.7" fill="#8320e4"/>
<rect x="97.96" y="388.15" width="15.11" height="1.7" fill="#8320e4"/>
<rect x="97.96" y="402.15" width="15.11" height="1.7" fill="#0a0022"/>
<rect x="97.96" y="414.15" width="15.11" height="1.7" fill="#0a1600"/>
<rect x="97.96" y="420.15" width="15.11" height="1.7" fill="#0a0022"/>
<rect x="97.96" y="422.15" width="15.11" height="1.7" fill="#8320e4"/>
<rect x="97.96" y="424.15" width="15.11" height="1.7" fill="#8320e4"/>
<rect x="97.96" y="426.15" width="15.11" height="1.7" fill="#0a0022"/>
<rect x="97.96" y="428.15" width="15.11" height="1.7" fill="#0a0022"/>
<rect x="97.96" y="432.15" width="15.11" height="1.7" fill="#0a0022"/>
<rect x="97.96" y="436.15" width="15.11" height="1.7" fill="#5c0ac3"/>
<rect x="97.96" y="438.15" width="15.11" height="1.7" fill="#8320e4"/>
<rect x="97.96" y="446.15" width="15.11" height="1.7" fill="#2d0078"/>
<rect x="97.96" y="448.15" width="15.11" height="1.7" fill="#0a0022"/>
<rect x="97.96" y="458.15" width="15.11" height="1.7" fill="#0a0022"/>
<rect x="97.96" y="462.15" width="15.11" height="1.7" fill="#2d0078"/>
<rect x="97.96" y="464.15" width="15.11" height="1.7" fill="#0a0022"/>
<rect x="97.96" y="466.15" width="15.11" height="1.7" fill="#5c0ac3"/>
<rect x="97.96" y="468.15" width="15.11" height="1.7" fill="#2d0078"/>
<rect x="97.96" y="470.15" width="15.11" height="1.7" fill="#5c0ac3"/>
<rect x="97.96" y="472.15" width="15.11" height="1.7" fill="#5c0ac3"/>
<rect x="97.96" y="474.15" width="15.11" height="1.7" fill="#5c0ac3"/>
<rect x="113.02" y="282.15" width="15.11" height="1.7" fill="#0a1600"/>
<rect x="113.02" y="286.15" width="15.11" height="1.7" fill="#2d5004"/>
<rect x="113.02" y="288.15" width="15.11" height="1.7" fill="#2d5004"/>
<rect x="113.02" y="296.15" width="15.11" height="1.7" fill="#5f910c"/>
<rect x="113.02" y="302.15" width="15.11" height="1.7" fill="#0a1600"/>
<rect x="113.02" y="304.15" width="15.11" height="1.7" fill="#2d0078"/>
<rect x="113.02" y="316.15" width="15.11" height="1.7" fill="#0a1600"/>
<rect x="113.02" y="320.15" width="15.11" height="1.7" fill="#5f910c"/>
<rect x="113.02" y="322.15" width="15.11" height="1.7" fill="#96c816"/>
<rect x="113.02" y="324.15" width="15.11" height="1.7" fill="#2d5004"/>
<rect x="113.02" y="326.15" width="15.11" height="1.7" fill="#2d5004"/>
<rect x="113.02" y="328.15" width="15.11" height="1.7" fill="#0a1600"/>
<rect x="113.02" y="330.15" width="15.11" height="1.7" fill="#0a1600"/>
<rect x="113.02" y="336.15" width="15.11" height="1.7" fill="#2d5004"/>
<rect x="113.02" y="346.15" width="15.11" height="1.7" fill="#2d5004"/>
<rect x="113.02" y="350.15" width="15.11" height="1.7" fill="#96c816"/>
<rect x="113.02" y="352.15" width="15.11" height="1.7" fill="#5f910c"/>
<rect x="113.02" y="358.15" width="15.11" height="1.7" fill="#0a0022"/>
<rect x="113.02" y="376.15" width="15.11" height="1.7" fill="#5f910c"/>
<rect x="113.02" y="380.15" width="15.11" height="1.7" fill="#0a0022"/>
<rect x="113.02" y="390.15" width="15.11" height="1.7" fill="#0a0022"/>
<rect x="113.02" y="398.15" width="15.11" height="1.7" fill="#0a0022"/>
<rect x="113.02" y="410.15" width="15.11" height="1.7" fill="#0a1600"/>
<rect x="113.02" y="416.15" width="15.11" height="1.7" fill="#0a0022"/>
<rect x="113.02" y="420.15" width="15.11" height="1.7" fill="#0a0022"/>
<rect x="113.02" y="422.15" width="15.11" height="1.7" fill="#8320e4"/>
<rect x="113.02" y="426.15" width="15.11" height="1.7" fill="#5c0ac3"/>
<rect x="113.02" y="450.15" width="15.11" height="1.7" fill="#0a0022"/>
<rect x="113.02" y="452.15" width="15.11" height="1.7" fill="#5c0ac3"/>
<rect x="113.02" y="454.15" width="15.11" height="1.7" fill="#0a0022"/>
<rect x="113.02" y="460.15" width="15.11" height="1.7" fill="#0a0022"/>
<rect x="113.02" y="464.15" width="15.11" height="1.7" fill="#0a0022"/>
<rect x="113.02" y="466.15" width="15.11" height="1.7" fill="#2d0078"/>
<rect x="113.02" y="468.15" width="15.11" height="1.7" fill="#0a0022"/>
<rect x="113.02" y="470.15" width="15.11" height="1.7" fill="#2d0078"/>
<rect x="113.02" y="478.15" width="15.11" height="1.7" fill="#5c0ac3"/>
<rect x="113.02" y="480.15" width="15.11" height="1.7" fill="#0a0022"/>
<rect x="113.02" y="494.15" width="15.11" height="1.45" fill="#0a0022"/>
<rect x="128.08" y="276.15" width="15.11" height="1.7" fill="#0a1600"/>
<rect x="128.08" y="282.15" width="15.11" height="1.7" fill="#0a1600"/>
<rect x="128.08" y="286.15" width="15.11" height="1.7" fill="#0a1600"/>
<rect x="128.08" y="292.15" width="15.11" height="1.7" fill="#2d5004"/>
<rect x="128.08" y="296.15" width="15.11" height="1.7" fill="#96c816"/>
<rect x="128.08" y="298.15" width="15.11" height="1.7" fill="#5f910c"/>
<rect x="128.08" y="300.15" width="15.11" height="1.7" fill="#0a1600"/>
<rect x="128.08" y="302.15" width="15.11" height="1.7" fill="#2d5004"/>
<rect x="128.08" y="304.15" width="15.11" height="1.7" fill="#0a1600"/>
<rect x="128.08" y="308.15" width="15.11" height="1.7" fill="#0a1600"/>
<rect x="128.08" y="314.15" width="15.11" height="1.7" fill="#0a1600"/>
<rect x="128.08" y="316.15" width="15.11" height="1.7" fill="#5f910c"/>
<rect x="128.08" y="320.15" width="15.11" height="1.7" fill="#2d5004"/>
<rect x="128.08" y="326.15" width="15.11" height="1.7" fill="#2d5004"/>
<rect x="128.08" y="334.15" width="15.11" height="1.7" fill="#0a1600"/>
<rect x="128.08" y="346.15" width="15.11" height="1.7" fill="#2d5004"/>
<rect x="128.08" y="348.15" width="15.11" height="1.7" fill="#2d5004"/>
<rect x="128.08" y="350.15" width="15.11" height="1.7" fill="#0a1600"/>
<rect x="128.08" y="354.15" width="15.11" height="1.7" fill="#0a1600"/>
<rect x="128.08" y="356.15" width="15.11" height="1.7" fill="#2d0078"/>
<rect x="128.08" y="368.15" width="15.11" height="1.7" fill="#2d0078"/>
<rect x="128.08" y="372.15" width="15.11" height="1.7" fill="#0a0022"/>
<rect x="128.08" y="376.15" width="15.11" height="1.7" fill="#5f910c"/>
<rect x="128.08" y="378.15" width="15.11" height="1.7" fill="#2d5004"/>
<rect x="128.08" y="386.15" width="15.11" height="1.7" fill="#0a1600"/>
<rect x="128.08" y="398.15" width="15.11" height="1.7" fill="#2d5004"/>
<rect x="128.08" y="412.15" width="15.11" height="1.7" fill="#0a0022"/>
<rect x="128.08" y="414.15" width="15.11" height="1.7" fill="#0a0022"/>
<rect x="128.08" y="416.15" width="15.11" height="1.7" fill="#0a0022"/>
<rect x="128.08" y="418.15" width="15.11" height="1.7" fill="#0a0022"/>
<rect x="128.08" y="426.15" width="15.11" height="1.7" fill="#2d0078"/>
<rect x="128.08" y="428.15" width="15.11" height="1.7" fill="#0a0022"/>
<rect x="128.08" y="430.15" width="15.11" height="1.7" fill="#0a0022"/>
<rect x="128.08" y="434.15" width="15.11" height="1.7" fill="#0a0022"/>
<rect x="128.08" y="444.15" width="15.11" height="1.7" fill="#0a0022"/>
<rect x="128.08" y="452.15" width="15.11" height="1.7" fill="#2d0078"/>
<rect x="128.08" y="454.15" width="15.11" height="1.7" fill="#0a0022"/>
<rect x="128.08" y="458.15" width="15.11" height="1.7" fill="#2d0078"/>
<rect x="128.08" y="460.15" width="15.11" height="1.7" fill="#0a0022"/>
<rect x="128.08" y="464.15" width="15.11" height="1.7" fill="#0a0022"/>
<rect x="128.08" y="468.15" width="15.11" height="1.7" fill="#5c0ac3"/>
<rect x="128.08" y="478.15" width="15.11" height="1.7" fill="#5c0ac3"/>
<rect x="128.08" y="480.15" width="15.11" height="1.7" fill="#0a0022"/>
<rect x="128.08" y="482.15" width="15.11" height="1.7" fill="#0a0022"/>
<rect x="128.08" y="484.15" width="15.11" height="1.7" fill="#2d0078"/>
<rect x="128.08" y="486.15" width="15.11" height="1.7" fill="#0a0022"/>
<rect x="128.08" y="490.15" width="15.11" height="1.7" fill="#8320e4"/>
<rect x="128.08" y="492.15" width="15.11" height="1.7" fill="#5c0ac3"/>
<rect x="128.08" y="494.15" width="15.11" height="1.45" fill="#0a0022"/>
<rect x="143.14" y="256.15" width="15.11" height="1.7" fill="#0a1600"/>
<rect x="143.14" y="262.15" width="15.11" height="1.7" fill="#0a1600"/>
<rect x="143.14" y="264.15" width="15.11" height="1.7" fill="#0a1600"/>
<rect x="143.14" y="274.15" width="15.11" height="1.7" fill="#0a1600"/>
<rect x="143.14" y="286.15" width="15.11" height="1.7" fill="#2d5004"/>
<rect x="143.14" y="298.15" width="15.11" height="1.7" fill="#0a1600"/>
<rect x="143.14" y="306.15" width="15.11" height="1.7" fill="#2d5004"/>
<rect x="143.14" y="308.15" width="15.11" height="1.7" fill="#0a1600"/>
<rect x="143.14" y="310.15" width="15.11" height="1.7" fill="#0a1600"/>
<rect x="143.14" y="320.15" width="15.11" height="1.7" fill="#2d0078"/>
<rect x="143.14" y="322.15" width="15.11" height="1.7" fill="#0a0022"/>
<rect x="143.14" y="324.15" width="15.11" height="1.7" fill="#0a0022"/>
<rect x="143.14" y="328.15" width="15.11" height="1.7" fill="#2d5004"/>
<rect x="143.14" y="330.15" width="15.11" height="1.7" fill="#0a1600"/>
<rect x="143.14" y="332.15" width="15.11" height="1.7" fill="#0a1600"/>
<rect x="143.14" y="336.15" width="15.11" height="1.7" fill="#96c816"/>
<rect x="143.14" y="338.15" width="15.11" height="1.7" fill="#0a1600"/>
<rect x="143.14" y="342.15" width="15.11" height="1.7" fill="#2d5004"/>
<rect x="143.14" y="348.15" width="15.11" height="1.7" fill="#2d0078"/>
<rect x="143.14" y="350.15" width="15.11" height="1.7" fill="#5c0ac3"/>
<rect x="143.14" y="372.15" width="15.11" height="1.7" fill="#c3eb1e"/>
<rect x="143.14" y="376.15" width="15.11" height="1.7" fill="#0a1600"/>
<rect x="143.14" y="382.15" width="15.11" height="1.7" fill="#0a0022"/>
<rect x="143.14" y="390.15" width="15.11" height="1.7" fill="#2d0078"/>
<rect x="143.14" y="394.15" width="15.11" height="1.7" fill="#2d0078"/>
<rect x="143.14" y="396.15" width="15.11" height="1.7" fill="#5c0ac3"/>
<rect x="143.14" y="398.15" width="15.11" height="1.7" fill="#0a0022"/>
<rect x="143.14" y="400.15" width="15.11" height="1.7" fill="#5c0ac3"/>
<rect x="143.14" y="402.15" width="15.11" height="1.7" fill="#2d0078"/>
<rect x="143.14" y="406.15" width="15.11" height="1.7" fill="#2d0078"/>
<rect x="143.14" y="412.15" width="15.11" height="1.7" fill="#0a0022"/>
<rect x="143.14" y="418.15" width="15.11" height="1.7" fill="#2d5004"/>
<rect x="143.14" y="420.15" width="15.11" height="1.7" fill="#5f910c"/>
<rect x="143.14" y="422.15" width="15.11" height="1.7" fill="#96c816"/>
<rect x="143.14" y="424.15" width="15.11" height="1.7" fill="#0a1600"/>
<rect x="143.14" y="462.15" width="15.11" height="1.7" fill="#5c0ac3"/>
<rect x="143.14" y="464.15" width="15.11" height="1.7" fill="#2d5004"/>
<rect x="143.14" y="466.15" width="15.11" height="1.7" fill="#0a1600"/>
<rect x="143.14" y="480.15" width="15.11" height="1.7" fill="#0a0022"/>
<rect x="143.14" y="482.15" width="15.11" height="1.7" fill="#0a0022"/>
<rect x="143.14" y="490.15" width="15.11" height="1.7" fill="#0a1600"/>
<rect x="158.2" y="256.15" width="15.11" height="1.7" fill="#5f910c"/>
<rect x="158.2" y="258.15" width="15.11" height="1.7" fill="#96c816"/>
<rect x="158.2" y="260.15" width="15.11" height="1.7" fill="#96c816"/>
<rect x="158.2" y="262.15" width="15.11" height="1.7" fill="#c3eb1e"/>
<rect x="158.2" y="264.15" width="15.11" height="1.7" fill="#c3eb1e"/>
<rect x="158.2" y="266.15" width="15.11" height="1.7" fill="#96c816"/>
<rect x="158.2" y="268.15" width="15.11" height="1.7" fill="#5f910c"/>
<rect x="158.2" y="270.15" width="15.11" height="1.7" fill="#2d5004"/>
<rect x="158.2" y="272.15" width="15.11" height="1.7" fill="#5f910c"/>
<rect x="158.2" y="274.15" width="15.11" height="1.7" fill="#2d5004"/>
<rect x="158.2" y="276.15" width="15.11" height="1.7" fill="#5f910c"/>
<rect x="158.2" y="278.15" width="15.11" height="1.7" fill="#96c816"/>
<rect x="158.2" y="280.15" width="15.11" height="1.7" fill="#2d5004"/>
<rect x="158.2" y="282.15" width="15.11" height="1.7" fill="#5f910c"/>
<rect x="158.2" y="284.15" width="15.11" height="1.7" fill="#0a1600"/>
<rect x="158.2" y="286.15" width="15.11" height="1.7" fill="#5f910c"/>
<rect x="158.2" y="288.15" width="15.11" height="1.7" fill="#2d5004"/>
<rect x="158.2" y="292.15" width="15.11" height="1.7" fill="#0a1600"/>
<rect x="158.2" y="294.15" width="15.11" height="1.7" fill="#0a1600"/>
<rect x="158.2" y="296.15" width="15.11" height="1.7" fill="#0a1600"/>
<rect x="158.2" y="298.15" width="15.11" height="1.7" fill="#2d5004"/>
<rect x="158.2" y="300.15" width="15.11" height="1.7" fill="#0a1600"/>
<rect x="158.2" y="302.15" width="15.11" height="1.7" fill="#2d5004"/>
<rect x="158.2" y="310.15" width="15.11" height="1.7" fill="#0a1600"/>
<rect x="158.2" y="312.15" width="15.11" height="1.7" fill="#2d5004"/>
<rect x="158.2" y="314.15" width="15.11" height="1.7" fill="#5f910c"/>
<rect x="158.2" y="316.15" width="15.11" height="1.7" fill="#0a1600"/>
<rect x="158.2" y="318.15" width="15.11" height="1.7" fill="#2d0078"/>
<rect x="158.2" y="328.15" width="15.11" height="1.7" fill="#96c816"/>
<rect x="158.2" y="330.15" width="15.11" height="1.7" fill="#96c816"/>
<rect x="158.2" y="332.15" width="15.11" height="1.7" fill="#2d5004"/>
<rect x="158.2" y="338.15" width="15.11" height="1.7" fill="#0a1600"/>
<rect x="158.2" y="344.15" width="15.11" height="1.7" fill="#0a1600"/>
<rect x="158.2" y="346.15" width="15.11" height="1.7" fill="#8320e4"/>
<rect x="158.2" y="348.15" width="15.11" height="1.7" fill="#2d0078"/>
<rect x="158.2" y="350.15" width="15.11" height="1.7" fill="#0a0022"/>
<rect x="158.2" y="354.15" width="15.11" height="1.7" fill="#5c0ac3"/>
<rect x="158.2" y="356.15" width="15.11" height="1.7" fill="#2d5004"/>
<rect x="158.2" y="360.15" width="15.11" height="1.7" fill="#5c0ac3"/>
<rect x="158.2" y="362.15" width="15.11" height="1.7" fill="#5c0ac3"/>
<rect x="158.2" y="366.15" width="15.11" height="1.7" fill="#5c0ac3"/>
<rect x="158.2" y="372.15" width="15.11" height="1.7" fill="#c3eb1e"/>
<rect x="158.2" y="376.15" width="15.11" height="1.7" fill="#0a1600"/>
<rect x="158.2" y="378.15" width="15.11" height="1.7" fill="#0a1600"/>
<rect x="158.2" y="382.15" width="15.11" height="1.7" fill="#0a0022"/>
<rect x="158.2" y="384.15" width="15.11" height="1.7" fill="#2d0078"/>
<rect x="158.2" y="386.15" width="15.11" height="1.7" fill="#8320e4"/>
<rect x="158.2" y="388.15" width="15.11" height="1.7" fill="#8320e4"/>
<rect x="158.2" y="392.15" width="15.11" height="1.7" fill="#8320e4"/>
<rect x="158.2" y="394.15" width="15.11" height="1.7" fill="#8320e4"/>
<rect x="158.2" y="396.15" width="15.11" height="1.7" fill="#5c0ac3"/>
<rect x="158.2" y="416.15" width="15.11" height="1.7" fill="#0a1600"/>
<rect x="158.2" y="418.15" width="15.11" height="1.7" fill="#5f910c"/>
<rect x="158.2" y="420.15" width="15.11" height="1.7" fill="#5f910c"/>
<rect x="158.2" y="422.15" width="15.11" height="1.7" fill="#0a1600"/>
<rect x="158.2" y="428.15" width="15.11" height="1.7" fill="#0a0022"/>
<rect x="158.2" y="430.15" width="15.11" height="1.7" fill="#2d0078"/>
<rect x="158.2" y="432.15" width="15.11" height="1.7" fill="#5c0ac3"/>
<rect x="158.2" y="434.15" width="15.11" height="1.7" fill="#8320e4"/>
<rect x="158.2" y="448.15" width="15.11" height="1.7" fill="#0a0022"/>
<rect x="158.2" y="456.15" width="15.11" height="1.7" fill="#2d0078"/>
<rect x="158.2" y="458.15" width="15.11" height="1.7" fill="#0a0022"/>
<rect x="158.2" y="466.15" width="15.11" height="1.7" fill="#0a0022"/>
<rect x="158.2" y="478.15" width="15.11" height="1.7" fill="#0a1600"/>
<rect x="158.2" y="486.15" width="15.11" height="1.7" fill="#0a1600"/>
<rect x="173.26" y="258.15" width="15.11" height="1.7" fill="#0a1600"/>
<rect x="173.26" y="268.15" width="15.11" height="1.7" fill="#2d5004"/>
<rect x="173.26" y="270.15" width="15.11" height="1.7" fill="#0a1600"/>
<rect x="173.26" y="272.15" width="15.11" height="1.7" fill="#5f910c"/>
<rect x="173.26" y="290.15" width="15.11" height="1.7" fill="#5f910c"/>
<rect x="173.26" y="292.15" width="15.11" height="1.7" fill="#2d5004"/>
<rect x="173.26" y="308.15" width="15.11" height="1.7" fill="#0a1600"/>
<rect x="173.26" y="312.15" width="15.11" height="1.7" fill="#0a1600"/>
<rect x="173.26" y="330.15" width="15.11" height="1.7" fill="#2d5004"/>
<rect x="173.26" y="332.15" width="15.11" height="1.7" fill="#0a1600"/>
<rect x="173.26" y="334.15" width="15.11" height="1.7" fill="#0a1600"/>
<rect x="173.26" y="338.15" width="15.11" height="1.7" fill="#0a1600"/>
<rect x="173.26" y="342.15" width="15.11" height="1.7" fill="#2d5004"/>
<rect x="173.26" y="344.15" width="15.11" height="1.7" fill="#2d5004"/>
<rect x="173.26" y="346.15" width="15.11" height="1.7" fill="#0a0022"/>
<rect x="173.26" y="348.15" width="15.11" height="1.7" fill="#2d0078"/>
<rect x="173.26" y="352.15" width="15.11" height="1.7" fill="#2d0078"/>
<rect x="173.26" y="354.15" width="15.11" height="1.7" fill="#0a0022"/>
<rect x="173.26" y="358.15" width="15.11" height="1.7" fill="#5c0ac3"/>
<rect x="173.26" y="360.15" width="15.11" height="1.7" fill="#5c0ac3"/>
<rect x="173.26" y="362.15" width="15.11" height="1.7" fill="#2d0078"/>
<rect x="173.26" y="364.15" width="15.11" height="1.7" fill="#0a0022"/>
<rect x="173.26" y="366.15" width="15.11" height="1.7" fill="#2d0078"/>
<rect x="173.26" y="370.15" width="15.11" height="1.7" fill="#0a0022"/>
<rect x="173.26" y="374.15" width="15.11" height="1.7" fill="#0a1600"/>
<rect x="173.26" y="378.15" width="15.11" height="1.7" fill="#c3eb1e"/>
<rect x="173.26" y="382.15" width="15.11" height="1.7" fill="#2d0078"/>
<rect x="173.26" y="386.15" width="15.11" height="1.7" fill="#0a0022"/>
<rect x="173.26" y="400.15" width="15.11" height="1.7" fill="#0a0022"/>
<rect x="173.26" y="418.15" width="15.11" height="1.7" fill="#0a0022"/>
<rect x="173.26" y="420.15" width="15.11" height="1.7" fill="#2d5004"/>
<rect x="173.26" y="424.15" width="15.11" height="1.7" fill="#0a1600"/>
<rect x="173.26" y="426.15" width="15.11" height="1.7" fill="#0a0022"/>
<rect x="173.26" y="428.15" width="15.11" height="1.7" fill="#2d0078"/>
<rect x="173.26" y="430.15" width="15.11" height="1.7" fill="#0a0022"/>
<rect x="173.26" y="432.15" width="15.11" height="1.7" fill="#5c0ac3"/>
<rect x="173.26" y="436.15" width="15.11" height="1.7" fill="#0a0022"/>
<rect x="173.26" y="440.15" width="15.11" height="1.7" fill="#5c0ac3"/>
<rect x="173.26" y="442.15" width="15.11" height="1.7" fill="#5c0ac3"/>
<rect x="173.26" y="446.15" width="15.11" height="1.7" fill="#2d0078"/>
<rect x="173.26" y="448.15" width="15.11" height="1.7" fill="#0a0022"/>
<rect x="173.26" y="476.15" width="15.11" height="1.7" fill="#5c0ac3"/>
<rect x="173.26" y="488.15" width="15.11" height="1.7" fill="#0a0022"/>
<rect x="259.0" y="254.2" width="177.6" height="242.1" fill="#000"/>
<rect x="259.0" y="254.35" width="14.85" height="1.7" fill="#96c816"/>
<rect x="259.0" y="256.35" width="14.85" height="1.7" fill="#0a1600"/>
<rect x="259.0" y="258.35" width="14.85" height="1.7" fill="#96c816"/>
<rect x="259.0" y="260.35" width="14.85" height="1.7" fill="#96c816"/>
<rect x="259.0" y="262.35" width="14.85" height="1.7" fill="#5f910c"/>
<rect x="259.0" y="264.35" width="14.85" height="1.7" fill="#0a1600"/>
<rect x="259.0" y="266.35" width="14.85" height="1.7" fill="#5f910c"/>
<rect x="259.0" y="268.35" width="14.85" height="1.7" fill="#96c816"/>
<rect x="259.0" y="270.35" width="14.85" height="1.7" fill="#96c816"/>
<rect x="259.0" y="272.35" width="14.85" height="1.7" fill="#96c816"/>
<rect x="259.0" y="274.35" width="14.85" height="1.7" fill="#c3eb1e"/>
<rect x="259.0" y="276.35" width="14.85" height="1.7" fill="#c3eb1e"/>
<rect x="259.0" y="278.35" width="14.85" height="1.7" fill="#96c816"/>
<rect x="259.0" y="280.35" width="14.85" height="1.7" fill="#5f910c"/>
<rect x="259.0" y="282.35" width="14.85" height="1.7" fill="#0a1600"/>
<rect x="259.0" y="284.35" width="14.85" height="1.7" fill="#96c816"/>
<rect x="259.0" y="286.35" width="14.85" height="1.7" fill="#5f910c"/>
<rect x="259.0" y="288.35" width="14.85" height="1.7" fill="#96c816"/>
<rect x="259.0" y="290.35" width="14.85" height="1.7" fill="#96c816"/>
<rect x="259.0" y="292.35" width="14.85" height="1.7" fill="#5f910c"/>
<rect x="259.0" y="294.35" width="14.85" height="1.7" fill="#0a1600"/>
<rect x="259.0" y="298.35" width="14.85" height="1.7" fill="#5f910c"/>
<rect x="259.0" y="300.35" width="14.85" height="1.7" fill="#2d5004"/>
<rect x="259.0" y="302.35" width="14.85" height="1.7" fill="#5f910c"/>
<rect x="259.0" y="304.35" width="14.85" height="1.7" fill="#5f910c"/>
<rect x="259.0" y="306.35" width="14.85" height="1.7" fill="#2d5004"/>
<rect x="259.0" y="308.35" width="14.85" height="1.7" fill="#5f910c"/>
<rect x="259.0" y="310.35" width="14.85" height="1.7" fill="#5f910c"/>
<rect x="259.0" y="312.35" width="14.85" height="1.7" fill="#0a1600"/>
<rect x="259.0" y="316.35" width="14.85" height="1.7" fill="#5f910c"/>
<rect x="259.0" y="318.35" width="14.85" height="1.7" fill="#c3eb1e"/>
<rect x="259.0" y="320.35" width="14.85" height="1.7" fill="#c3eb1e"/>
<rect x="259.0" y="322.35" width="14.85" height="1.7" fill="#5f910c"/>
<rect x="259.0" y="324.35" width="14.85" height="1.7" fill="#96c816"/>
<rect x="259.0" y="326.35" width="14.85" height="1.7" fill="#2d5004"/>
<rect x="259.0" y="330.35" width="14.85" height="1.7" fill="#0a0022"/>
<rect x="259.0" y="340.35" width="14.85" height="1.7" fill="#0a1600"/>
<rect x="259.0" y="342.35" width="14.85" height="1.7" fill="#2d5004"/>
<rect x="259.0" y="346.35" width="14.85" height="1.7" fill="#2d5004"/>
<rect x="259.0" y="348.35" width="14.85" height="1.7" fill="#5f910c"/>
<rect x="259.0" y="356.35" width="14.85" height="1.7" fill="#0a0022"/>
<rect x="259.0" y="358.35" width="14.85" height="1.7" fill="#0a0022"/>
<rect x="259.0" y="360.35" width="14.85" height="1.7" fill="#0a0022"/>
<rect x="259.0" y="362.35" width="14.85" height="1.7" fill="#0a1600"/>
<rect x="259.0" y="370.35" width="14.85" height="1.7" fill="#0a1600"/>
<rect x="259.0" y="374.35" width="14.85" height="1.7" fill="#c3eb1e"/>
<rect x="259.0" y="376.35" width="14.85" height="1.7" fill="#96c816"/>
<rect x="259.0" y="380.35" width="14.85" height="1.7" fill="#5f910c"/>
<rect x="259.0" y="382.35" width="14.85" height="1.7" fill="#c3eb1e"/>
<rect x="259.0" y="384.35" width="14.85" height="1.7" fill="#5f910c"/>
<rect x="259.0" y="388.35" width="14.85" height="1.7" fill="#8320e4"/>
<rect x="259.0" y="390.35" width="14.85" height="1.7" fill="#8320e4"/>
<rect x="259.0" y="392.35" width="14.85" height="1.7" fill="#8320e4"/>
<rect x="259.0" y="394.35" width="14.85" height="1.7" fill="#5c0ac3"/>
<rect x="259.0" y="396.35" width="14.85" height="1.7" fill="#0a0022"/>
<rect x="259.0" y="398.35" width="14.85" height="1.7" fill="#8320e4"/>
<rect x="259.0" y="400.35" width="14.85" height="1.7" fill="#5c0ac3"/>
<rect x="259.0" y="402.35" width="14.85" height="1.7" fill="#8320e4"/>
<rect x="259.0" y="404.35" width="14.85" height="1.7" fill="#5c0ac3"/>
<rect x="259.0" y="406.35" width="14.85" height="1.7" fill="#8320e4"/>
<rect x="259.0" y="408.35" width="14.85" height="1.7" fill="#8320e4"/>
<rect x="259.0" y="410.35" width="14.85" height="1.7" fill="#5c0ac3"/>
<rect x="259.0" y="412.35" width="14.85" height="1.7" fill="#5c0ac3"/>
<rect x="259.0" y="414.35" width="14.85" height="1.7" fill="#8320e4"/>
<rect x="259.0" y="416.35" width="14.85" height="1.7" fill="#0a0022"/>
<rect x="259.0" y="418.35" width="14.85" height="1.7" fill="#5c0ac3"/>
<rect x="259.0" y="420.35" width="14.85" height="1.7" fill="#8320e4"/>
<rect x="259.0" y="422.35" width="14.85" height="1.7" fill="#8320e4"/>
<rect x="259.0" y="424.35" width="14.85" height="1.7" fill="#5c0ac3"/>
<rect x="259.0" y="426.35" width="14.85" height="1.7" fill="#0a0022"/>
<rect x="259.0" y="428.35" width="14.85" height="1.7" fill="#5c0ac3"/>
<rect x="259.0" y="430.35" width="14.85" height="1.7" fill="#0a0022"/>
<rect x="259.0" y="434.35" width="14.85" height="1.7" fill="#8320e4"/>
<rect x="259.0" y="436.35" width="14.85" height="1.7" fill="#8320e4"/>
<rect x="259.0" y="438.35" width="14.85" height="1.7" fill="#0a0022"/>
<rect x="259.0" y="440.35" width="14.85" height="1.7" fill="#5c0ac3"/>
<rect x="259.0" y="442.35" width="14.85" height="1.7" fill="#8320e4"/>
<rect x="259.0" y="444.35" width="14.85" height="1.7" fill="#8320e4"/>
<rect x="259.0" y="446.35" width="14.85" height="1.7" fill="#0a0022"/>
<rect x="259.0" y="448.35" width="14.85" height="1.7" fill="#2d0078"/>
<rect x="259.0" y="450.35" width="14.85" height="1.7" fill="#5c0ac3"/>
<rect x="259.0" y="462.35" width="14.85" height="1.7" fill="#2d0078"/>
<rect x="259.0" y="464.35" width="14.85" height="1.7" fill="#5c0ac3"/>
<rect x="259.0" y="468.35" width="14.85" height="1.7" fill="#8320e4"/>
<rect x="259.0" y="470.35" width="14.85" height="1.7" fill="#5c0ac3"/>
<rect x="259.0" y="472.35" width="14.85" height="1.7" fill="#0a0022"/>
<rect x="259.0" y="474.35" width="14.85" height="1.7" fill="#2d0078"/>
<rect x="259.0" y="480.35" width="14.85" height="1.7" fill="#9a3cf0"/>
<rect x="259.0" y="482.35" width="14.85" height="1.7" fill="#9a3cf0"/>
<rect x="259.0" y="484.35" width="14.85" height="1.7" fill="#9a3cf0"/>
<rect x="259.0" y="486.35" width="14.85" height="1.7" fill="#9a3cf0"/>
<rect x="259.0" y="488.35" width="14.85" height="1.7" fill="#0a0022"/>
<rect x="259.0" y="490.35" width="14.85" height="1.7" fill="#2d0078"/>
<rect x="259.0" y="492.35" width="14.85" height="1.7" fill="#0a0022"/>
<rect x="273.8" y="254.35" width="14.85" height="1.7" fill="#5f910c"/>
<rect x="273.8" y="256.35" width="14.85" height="1.7" fill="#5f910c"/>
<rect x="273.8" y="258.35" width="14.85" height="1.7" fill="#0a1600"/>
<rect x="273.8" y="260.35" width="14.85" height="1.7" fill="#96c816"/>
<rect x="273.8" y="262.35" width="14.85" height="1.7" fill="#96c816"/>
<rect x="273.8" y="264.35" width="14.85" height="1.7" fill="#5f910c"/>
<rect x="273.8" y="268.35" width="14.85" height="1.7" fill="#5f910c"/>
<rect x="273.8" y="270.35" width="14.85" height="1.7" fill="#c3eb1e"/>
<rect x="273.8" y="272.35" width="14.85" height="1.7" fill="#c3eb1e"/>
<rect x="273.8" y="274.35" width="14.85" height="1.7" fill="#c3eb1e"/>
<rect x="273.8" y="280.35" width="14.85" height="1.7" fill="#0a1600"/>
<rect x="273.8" y="282.35" width="14.85" height="1.7" fill="#5f910c"/>
<rect x="273.8" y="284.35" width="14.85" height="1.7" fill="#96c816"/>
<rect x="273.8" y="286.35" width="14.85" height="1.7" fill="#2d5004"/>
<rect x="273.8" y="288.35" width="14.85" height="1.7" fill="#5f910c"/>
<rect x="273.8" y="290.35" width="14.85" height="1.7" fill="#2d5004"/>
<rect x="273.8" y="294.35" width="14.85" height="1.7" fill="#0a1600"/>
<rect x="273.8" y="298.35" width="14.85" height="1.7" fill="#96c816"/>
<rect x="273.8" y="300.35" width="14.85" height="1.7" fill="#5f910c"/>
<rect x="273.8" y="304.35" width="14.85" height="1.7" fill="#0a1600"/>
<rect x="273.8" y="306.35" width="14.85" height="1.7" fill="#5f910c"/>
<rect x="273.8" y="308.35" width="14.85" height="1.7" fill="#96c816"/>
<rect x="273.8" y="310.35" width="14.85" height="1.7" fill="#96c816"/>
<rect x="273.8" y="312.35" width="14.85" height="1.7" fill="#0a1600"/>
<rect x="273.8" y="314.35" width="14.85" height="1.7" fill="#5f910c"/>
<rect x="273.8" y="316.35" width="14.85" height="1.7" fill="#96c816"/>
<rect x="273.8" y="318.35" width="14.85" height="1.7" fill="#5f910c"/>
<rect x="273.8" y="320.35" width="14.85" height="1.7" fill="#0a1600"/>
<rect x="273.8" y="322.35" width="14.85" height="1.7" fill="#96c816"/>
<rect x="273.8" y="324.35" width="14.85" height="1.7" fill="#5f910c"/>
<rect x="273.8" y="326.35" width="14.85" height="1.7" fill="#2d5004"/>
<rect x="273.8" y="330.35" width="14.85" height="1.7" fill="#0a0022"/>
<rect x="273.8" y="338.35" width="14.85" height="1.7" fill="#5f910c"/>
<rect x="273.8" y="340.35" width="14.85" height="1.7" fill="#96c816"/>
<rect x="273.8" y="346.35" width="14.85" height="1.7" fill="#5c0ac3"/>
<rect x="273.8" y="352.35" width="14.85" height="1.7" fill="#5c0ac3"/>
<rect x="273.8" y="354.35" width="14.85" height="1.7" fill="#5c0ac3"/>
<rect x="273.8" y="356.35" width="14.85" height="1.7" fill="#0a0022"/>
<rect x="273.8" y="366.35" width="14.85" height="1.7" fill="#0a0022"/>
<rect x="273.8" y="374.35" width="14.85" height="1.7" fill="#0a1600"/>
<rect x="273.8" y="382.35" width="14.85" height="1.7" fill="#2d5004"/>
<rect x="273.8" y="384.35" width="14.85" height="1.7" fill="#0a1600"/>
<rect x="273.8" y="388.35" width="14.85" height="1.7" fill="#0a0022"/>
<rect x="273.8" y="396.35" width="14.85" height="1.7" fill="#0a0022"/>
<rect x="273.8" y="398.35" width="14.85" height="1.7" fill="#5c0ac3"/>
<rect x="273.8" y="400.35" width="14.85" height="1.7" fill="#8320e4"/>
<rect x="273.8" y="402.35" width="14.85" height="1.7" fill="#2d0078"/>
<rect x="273.8" y="404.35" width="14.85" height="1.7" fill="#5c0ac3"/>
<rect x="273.8" y="406.35" width="14.85" height="1.7" fill="#2d0078"/>
<rect x="273.8" y="408.35" width="14.85" height="1.7" fill="#0a0022"/>
<rect x="273.8" y="410.35" width="14.85" height="1.7" fill="#5c0ac3"/>
<rect x="273.8" y="412.35" width="14.85" height="1.7" fill="#2d0078"/>
<rect x="273.8" y="414.35" width="14.85" height="1.7" fill="#9a3cf0"/>
<rect x="273.8" y="416.35" width="14.85" height="1.7" fill="#9a3cf0"/>
<rect x="273.8" y="418.35" width="14.85" height="1.7" fill="#9a3cf0"/>
<rect x="273.8" y="420.35" width="14.85" height="1.7" fill="#5c0ac3"/>
<rect x="273.8" y="424.35" width="14.85" height="1.7" fill="#5c0ac3"/>
<rect x="273.8" y="426.35" width="14.85" height="1.7" fill="#2d0078"/>
<rect x="273.8" y="428.35" width="14.85" height="1.7" fill="#5c0ac3"/>
<rect x="273.8" y="430.35" width="14.85" height="1.7" fill="#2d0078"/>
<rect x="273.8" y="438.35" width="14.85" height="1.7" fill="#8320e4"/>
<rect x="273.8" y="440.35" width="14.85" height="1.7" fill="#8320e4"/>
<rect x="273.8" y="442.35" width="14.85" height="1.7" fill="#5c0ac3"/>
<rect x="273.8" y="444.35" width="14.85" height="1.7" fill="#2d0078"/>
<rect x="273.8" y="446.35" width="14.85" height="1.7" fill="#5c0ac3"/>
<rect x="273.8" y="448.35" width="14.85" height="1.7" fill="#2d0078"/>
<rect x="273.8" y="450.35" width="14.85" height="1.7" fill="#2d0078"/>
<rect x="273.8" y="452.35" width="14.85" height="1.7" fill="#0a0022"/>
<rect x="273.8" y="454.35" width="14.85" height="1.7" fill="#8320e4"/>
<rect x="273.8" y="464.35" width="14.85" height="1.7" fill="#5c0ac3"/>
<rect x="273.8" y="466.35" width="14.85" height="1.7" fill="#2d0078"/>
<rect x="273.8" y="468.35" width="14.85" height="1.7" fill="#8320e4"/>
<rect x="273.8" y="470.35" width="14.85" height="1.7" fill="#8320e4"/>
<rect x="273.8" y="472.35" width="14.85" height="1.7" fill="#5c0ac3"/>
<rect x="273.8" y="474.35" width="14.85" height="1.7" fill="#2d0078"/>
<rect x="273.8" y="476.35" width="14.85" height="1.7" fill="#0a0022"/>
<rect x="273.8" y="478.35" width="14.85" height="1.7" fill="#0a0022"/>
<rect x="273.8" y="480.35" width="14.85" height="1.7" fill="#2d0078"/>
<rect x="273.8" y="482.35" width="14.85" height="1.7" fill="#5c0ac3"/>
<rect x="273.8" y="486.35" width="14.85" height="1.7" fill="#0a0022"/>
<rect x="273.8" y="488.35" width="14.85" height="1.7" fill="#5c0ac3"/>
<rect x="273.8" y="490.35" width="14.85" height="1.7" fill="#2d0078"/>
<rect x="273.8" y="492.35" width="14.85" height="1.7" fill="#5c0ac3"/>
<rect x="273.8" y="494.35" width="14.85" height="1.7" fill="#0a0022"/>
<rect x="288.6" y="254.35" width="14.85" height="1.7" fill="#5f910c"/>
<rect x="288.6" y="256.35" width="14.85" height="1.7" fill="#0a1600"/>
<rect x="288.6" y="258.35" width="14.85" height="1.7" fill="#0a1600"/>
<rect x="288.6" y="262.35" width="14.85" height="1.7" fill="#2d5004"/>
<rect x="288.6" y="264.35" width="14.85" height="1.7" fill="#96c816"/>
<rect x="288.6" y="266.35" width="14.85" height="1.7" fill="#c3eb1e"/>
<rect x="288.6" y="272.35" width="14.85" height="1.7" fill="#0a1600"/>
<rect x="288.6" y="276.35" width="14.85" height="1.7" fill="#5f910c"/>
<rect x="288.6" y="278.35" width="14.85" height="1.7" fill="#2d5004"/>
<rect x="288.6" y="280.35" width="14.85" height="1.7" fill="#96c816"/>
<rect x="288.6" y="282.35" width="14.85" height="1.7" fill="#5f910c"/>
<rect x="288.6" y="284.35" width="14.85" height="1.7" fill="#0a1600"/>
<rect x="288.6" y="286.35" width="14.85" height="1.7" fill="#2d5004"/>
<rect x="288.6" y="288.35" width="14.85" height="1.7" fill="#0a1600"/>
<rect x="288.6" y="292.35" width="14.85" height="1.7" fill="#5f910c"/>
<rect x="288.6" y="294.35" width="14.85" height="1.7" fill="#96c816"/>
<rect x="288.6" y="296.35" width="14.85" height="1.7" fill="#96c816"/>
<rect x="288.6" y="298.35" width="14.85" height="1.7" fill="#5f910c"/>
<rect x="288.6" y="300.35" width="14.85" height="1.7" fill="#2d5004"/>
<rect x="288.6" y="302.35" width="14.85" height="1.7" fill="#5f910c"/>
<rect x="288.6" y="304.35" width="14.85" height="1.7" fill="#2d5004"/>
<rect x="288.6" y="306.35" width="14.85" height="1.7" fill="#5f910c"/>
<rect x="288.6" y="308.35" width="14.85" height="1.7" fill="#0a1600"/>
<rect x="288.6" y="310.35" width="14.85" height="1.7" fill="#96c816"/>
<rect x="288.6" y="312.35" width="14.85" height="1.7" fill="#96c816"/>
<rect x="288.6" y="314.35" width="14.85" height="1.7" fill="#5f910c"/>
<rect x="288.6" y="316.35" width="14.85" height="1.7" fill="#0a1600"/>
<rect x="288.6" y="318.35" width="14.85" height="1.7" fill="#2d5004"/>
<rect x="288.6" y="320.35" width="14.85" height="1.7" fill="#0a1600"/>
<rect x="288.6" y="322.35" width="14.85" height="1.7" fill="#5f910c"/>
<rect x="288.6" y="324.35" width="14.85" height="1.7" fill="#2d5004"/>
<rect x="288.6" y="326.35" width="14.85" height="1.7" fill="#0a1600"/>
<rect x="288.6" y="334.35" width="14.85" height="1.7" fill="#5c0ac3"/>
<rect x="288.6" y="338.35" width="14.85" height="1.7" fill="#0a1600"/>
<rect x="288.6" y="340.35" width="14.85" height="1.7" fill="#2d5004"/>
<rect x="288.6" y="342.35" width="14.85" height="1.7" fill="#0a1600"/>
<rect x="288.6" y="346.35" width="14.85" height="1.7" fill="#2d0078"/>
<rect x="288.6" y="352.35" width="14.85" height="1.7" fill="#8320e4"/>
<rect x="288.6" y="372.35" width="14.85" height="1.7" fill="#5f910c"/>
<rect x="288.6" y="374.35" width="14.85" height="1.7" fill="#5f910c"/>
<rect x="288.6" y="378.35" width="14.85" height="1.7" fill="#2d5004"/>
<rect x="288.6" y="384.35" width="14.85" height="1.7" fill="#2d5004"/>
<rect x="288.6" y="386.35" width="14.85" height="1.7" fill="#5f910c"/>
<rect x="288.6" y="390.35" width="14.85" height="1.7" fill="#5c0ac3"/>
<rect x="288.6" y="394.35" width="14.85" height="1.7" fill="#2d0078"/>
<rect x="288.6" y="396.35" width="14.85" height="1.7" fill="#5c0ac3"/>
<rect x="288.6" y="400.35" width="14.85" height="1.7" fill="#0a0022"/>
<rect x="288.6" y="402.35" width="14.85" height="1.7" fill="#2d0078"/>
<rect x="288.6" y="408.35" width="14.85" height="1.7" fill="#0a0022"/>
<rect x="288.6" y="410.35" width="14.85" height="1.7" fill="#5c0ac3"/>
<rect x="288.6" y="412.35" width="14.85" height="1.7" fill="#0a0022"/>
<rect x="288.6" y="414.35" width="14.85" height="1.7" fill="#0a0022"/>
<rect x="288.6" y="418.35" width="14.85" height="1.7" fill="#0a0022"/>
<rect x="288.6" y="422.35" width="14.85" height="1.7" fill="#2d0078"/>
<rect x="288.6" y="424.35" width="14.85" height="1.7" fill="#5c0ac3"/>
<rect x="288.6" y="426.35" width="14.85" height="1.7" fill="#2d0078"/>
<rect x="288.6" y="428.35" width="14.85" height="1.7" fill="#2d0078"/>
<rect x="288.6" y="432.35" width="14.85" height="1.7" fill="#0a0022"/>
<rect x="288.6" y="436.35" width="14.85" height="1.7" fill="#5c0ac3"/>
<rect x="288.6" y="438.35" width="14.85" height="1.7" fill="#5c0ac3"/>
<rect x="288.6" y="440.35" width="14.85" height="1.7" fill="#0a0022"/>
<rect x="288.6" y="444.35" width="14.85" height="1.7" fill="#8320e4"/>
<rect x="288.6" y="446.35" width="14.85" height="1.7" fill="#8320e4"/>
<rect x="288.6" y="450.35" width="14.85" height="1.7" fill="#0a0022"/>
<rect x="288.6" y="454.35" width="14.85" height="1.7" fill="#2d0078"/>
<rect x="288.6" y="460.35" width="14.85" height="1.7" fill="#2d0078"/>
<rect x="288.6" y="462.35" width="14.85" height="1.7" fill="#0a0022"/>
<rect x="288.6" y="470.35" width="14.85" height="1.7" fill="#8320e4"/>
<rect x="288.6" y="472.35" width="14.85" height="1.7" fill="#8320e4"/>
<rect x="288.6" y="474.35" width="14.85" height="1.7" fill="#5c0ac3"/>
<rect x="288.6" y="476.35" width="14.85" height="1.7" fill="#8320e4"/>
<rect x="288.6" y="478.35" width="14.85" height="1.7" fill="#5c0ac3"/>
<rect x="288.6" y="482.35" width="14.85" height="1.7" fill="#0a0022"/>
<rect x="288.6" y="484.35" width="14.85" height="1.7" fill="#0a0022"/>
<rect x="288.6" y="486.35" width="14.85" height="1.7" fill="#5c0ac3"/>
<rect x="288.6" y="488.35" width="14.85" height="1.7" fill="#2d0078"/>
<rect x="288.6" y="490.35" width="14.85" height="1.7" fill="#5c0ac3"/>
<rect x="288.6" y="492.35" width="14.85" height="1.7" fill="#8320e4"/>
<rect x="288.6" y="494.35" width="14.85" height="1.7" fill="#0a0022"/>
<rect x="303.4" y="254.35" width="14.85" height="1.7" fill="#2d0078"/>
<rect x="303.4" y="270.35" width="14.85" height="1.7" fill="#0a0022"/>
<rect x="303.4" y="274.35" width="14.85" height="1.7" fill="#0a0022"/>
<rect x="303.4" y="280.35" width="14.85" height="1.7" fill="#0a0022"/>
<rect x="303.4" y="292.35" width="14.85" height="1.7" fill="#5c0ac3"/>
<rect x="303.4" y="294.35" width="14.85" height="1.7" fill="#2d0078"/>
<rect x="303.4" y="298.35" width="14.85" height="1.7" fill="#0a0022"/>
<rect x="303.4" y="302.35" width="14.85" height="1.7" fill="#2d0078"/>
<rect x="303.4" y="308.35" width="14.85" height="1.7" fill="#0a0022"/>
<rect x="303.4" y="312.35" width="14.85" height="1.7" fill="#5c0ac3"/>
<rect x="303.4" y="314.35" width="14.85" height="1.7" fill="#2d0078"/>
<rect x="303.4" y="318.35" width="14.85" height="1.7" fill="#0a0022"/>
<rect x="303.4" y="320.35" width="14.85" height="1.7" fill="#2d0078"/>
<rect x="303.4" y="324.35" width="14.85" height="1.7" fill="#5c0ac3"/>
<rect x="303.4" y="332.35" width="14.85" height="1.7" fill="#0a0022"/>
<rect x="303.4" y="338.35" width="14.85" height="1.7" fill="#8320e4"/>
<rect x="303.4" y="340.35" width="14.85" height="1.7" fill="#8320e4"/>
<rect x="303.4" y="346.35" width="14.85" height="1.7" fill="#0a1600"/>
<rect x="303.4" y="348.35" width="14.85" height="1.7" fill="#2d5004"/>
<rect x="303.4" y="350.35" width="14.85" height="1.7" fill="#96c816"/>
<rect x="303.4" y="352.35" width="14.85" height="1.7" fill="#c3eb1e"/>
<rect x="303.4" y="354.35" width="14.85" height="1.7" fill="#96c816"/>
<rect x="303.4" y="356.35" width="14.85" height="1.7" fill="#5f910c"/>
<rect x="303.4" y="360.35" width="14.85" height="1.7" fill="#96c816"/>
<rect x="303.4" y="362.35" width="14.85" height="1.7" fill="#96c816"/>
<rect x="303.4" y="364.35" width="14.85" height="1.7" fill="#5f910c"/>
<rect x="303.4" y="366.35" width="14.85" height="1.7" fill="#c3eb1e"/>
<rect x="303.4" y="368.35" width="14.85" height="1.7" fill="#5f910c"/>
<rect x="303.4" y="370.35" width="14.85" height="1.7" fill="#c3eb1e"/>
<rect x="303.4" y="376.35" width="14.85" height="1.7" fill="#0a1600"/>
<rect x="303.4" y="378.35" width="14.85" height="1.7" fill="#2d5004"/>
<rect x="303.4" y="380.35" width="14.85" height="1.7" fill="#0a1600"/>
<rect x="303.4" y="382.35" width="14.85" height="1.7" fill="#5f910c"/>
<rect x="303.4" y="384.35" width="14.85" height="1.7" fill="#96c816"/>
<rect x="303.4" y="394.35" width="14.85" height="1.7" fill="#0a1600"/>
<rect x="303.4" y="414.35" width="14.85" height="1.7" fill="#0a0022"/>
<rect x="303.4" y="426.35" width="14.85" height="1.7" fill="#0a1600"/>
<rect x="303.4" y="434.35" width="14.85" height="1.7" fill="#96c816"/>
<rect x="303.4" y="436.35" width="14.85" height="1.7" fill="#96c816"/>
<rect x="303.4" y="440.35" width="14.85" height="1.7" fill="#0a1600"/>
<rect x="303.4" y="444.35" width="14.85" height="1.7" fill="#96c816"/>
<rect x="303.4" y="446.35" width="14.85" height="1.7" fill="#5f910c"/>
<rect x="303.4" y="450.35" width="14.85" height="1.7" fill="#96c816"/>
<rect x="303.4" y="452.35" width="14.85" height="1.7" fill="#2d5004"/>
<rect x="303.4" y="454.35" width="14.85" height="1.7" fill="#5f910c"/>
<rect x="303.4" y="466.35" width="14.85" height="1.7" fill="#0a1600"/>
<rect x="303.4" y="476.35" width="14.85" height="1.7" fill="#0a1600"/>
<rect x="303.4" y="480.35" width="14.85" height="1.7" fill="#0a1600"/>
<rect x="318.2" y="254.35" width="14.85" height="1.7" fill="#5c0ac3"/>
<rect x="318.2" y="266.35" width="14.85" height="1.7" fill="#0a1600"/>
<rect x="318.2" y="294.35" width="14.85" height="1.7" fill="#2d0078"/>
<rect x="318.2" y="296.35" width="14.85" height="1.7" fill="#0a0022"/>
<rect x="318.2" y="298.35" width="14.85" height="1.7" fill="#5c0ac3"/>
<rect x="318.2" y="300.35" width="14.85" height="1.7" fill="#2d0078"/>
<rect x="318.2" y="302.35" width="14.85" height="1.7" fill="#5c0ac3"/>
<rect x="318.2" y="304.35" width="14.85" height="1.7" fill="#2d0078"/>
<rect x="318.2" y="308.35" width="14.85" height="1.7" fill="#8320e4"/>
<rect x="318.2" y="316.35" width="14.85" height="1.7" fill="#2d0078"/>
<rect x="318.2" y="322.35" width="14.85" height="1.7" fill="#0a0022"/>
<rect x="318.2" y="330.35" width="14.85" height="1.7" fill="#5c0ac3"/>
<rect x="318.2" y="332.35" width="14.85" height="1.7" fill="#0a0022"/>
<rect x="318.2" y="336.35" width="14.85" height="1.7" fill="#0a0022"/>
<rect x="318.2" y="338.35" width="14.85" height="1.7" fill="#8320e4"/>
<rect x="318.2" y="340.35" width="14.85" height="1.7" fill="#8320e4"/>
<rect x="318.2" y="344.35" width="14.85" height="1.7" fill="#2d5004"/>
<rect x="318.2" y="346.35" width="14.85" height="1.7" fill="#5f910c"/>
<rect x="318.2" y="348.35" width="14.85" height="1.7" fill="#0a1600"/>
<rect x="318.2" y="350.35" width="14.85" height="1.7" fill="#96c816"/>
<rect x="318.2" y="352.35" width="14.85" height="1.7" fill="#c3eb1e"/>
<rect x="318.2" y="354.35" width="14.85" height="1.7" fill="#96c816"/>
<rect x="318.2" y="356.35" width="14.85" height="1.7" fill="#5f910c"/>
<rect x="318.2" y="358.35" width="14.85" height="1.7" fill="#5f910c"/>
<rect x="318.2" y="360.35" width="14.85" height="1.7" fill="#96c816"/>
<rect x="318.2" y="362.35" width="14.85" height="1.7" fill="#5f910c"/>
<rect x="318.2" y="364.35" width="14.85" height="1.7" fill="#96c816"/>
<rect x="318.2" y="366.35" width="14.85" height="1.7" fill="#96c816"/>
<rect x="318.2" y="374.35" width="14.85" height="1.7" fill="#5f910c"/>
<rect x="318.2" y="378.35" width="14.85" height="1.7" fill="#0a1600"/>
<rect x="318.2" y="380.35" width="14.85" height="1.7" fill="#2d5004"/>
<rect x="318.2" y="386.35" width="14.85" height="1.7" fill="#0a0022"/>
<rect x="318.2" y="406.35" width="14.85" height="1.7" fill="#0a1600"/>
<rect x="318.2" y="418.35" width="14.85" height="1.7" fill="#0a1600"/>
<rect x="318.2" y="426.35" width="14.85" height="1.7" fill="#5f910c"/>
<rect x="318.2" y="436.35" width="14.85" height="1.7" fill="#2d5004"/>
<rect x="318.2" y="442.35" width="14.85" height="1.7" fill="#2d5004"/>
<rect x="318.2" y="444.35" width="14.85" height="1.7" fill="#5f910c"/>
<rect x="318.2" y="448.35" width="14.85" height="1.7" fill="#2d5004"/>
<rect x="318.2" y="450.35" width="14.85" height="1.7" fill="#5f910c"/>
<rect x="318.2" y="452.35" width="14.85" height="1.7" fill="#96c816"/>
<rect x="318.2" y="454.35" width="14.85" height="1.7" fill="#5f910c"/>
<rect x="318.2" y="458.35" width="14.85" height="1.7" fill="#0a0022"/>
<rect x="318.2" y="460.35" width="14.85" height="1.7" fill="#2d0078"/>
<rect x="318.2" y="466.35" width="14.85" height="1.7" fill="#5f910c"/>
<rect x="318.2" y="478.35" width="14.85" height="1.7" fill="#0a1600"/>
<rect x="318.2" y="488.35" width="14.85" height="1.7" fill="#0a1600"/>
<rect x="318.2" y="490.35" width="14.85" height="1.7" fill="#0a1600"/>
<rect x="333.0" y="254.35" width="14.85" height="1.7" fill="#0a0022"/>
<rect x="333.0" y="256.35" width="14.85" height="1.7" fill="#0a0022"/>
<rect x="333.0" y="262.35" width="14.85" height="1.7" fill="#0a1600"/>
<rect x="333.0" y="264.35" width="14.85" height="1.7" fill="#0a1600"/>
<rect x="333.0" y="270.35" width="14.85" height="1.7" fill="#0a0022"/>
<rect x="333.0" y="290.35" width="14.85" height="1.7" fill="#0a1600"/>
<rect x="333.0" y="294.35" width="14.85" height="1.7" fill="#2d0078"/>
<rect x="333.0" y="296.35" width="14.85" height="1.7" fill="#5c0ac3"/>
<rect x="333.0" y="300.35" width="14.85" height="1.7" fill="#0a0022"/>
<rect x="333.0" y="302.35" width="14.85" height="1.7" fill="#8320e4"/>
<rect x="333.0" y="312.35" width="14.85" height="1.7" fill="#0a0022"/>
<rect x="333.0" y="328.35" width="14.85" height="1.7" fill="#5c0ac3"/>
<rect x="333.0" y="330.35" width="14.85" height="1.7" fill="#0a0022"/>
<rect x="333.0" y="338.35" width="14.85" height="1.7" fill="#0a0022"/>
<rect x="333.0" y="340.35" width="14.85" height="1.7" fill="#8320e4"/>
<rect x="333.0" y="346.35" width="14.85" height="1.7" fill="#0a1600"/>
<rect x="333.0" y="350.35" width="14.85" height="1.7" fill="#2d5004"/>
<rect x="333.0" y="354.35" width="14.85" height="1.7" fill="#0a1600"/>
<rect x="333.0" y="356.35" width="14.85" height="1.7" fill="#0a1600"/>
<rect x="333.0" y="358.35" width="14.85" height="1.7" fill="#5f910c"/>
<rect x="333.0" y="368.35" width="14.85" height="1.7" fill="#5f910c"/>
<rect x="333.0" y="370.35" width="14.85" height="1.7" fill="#2d5004"/>
<rect x="333.0" y="378.35" width="14.85" height="1.7" fill="#5f910c"/>
<rect x="333.0" y="384.35" width="14.85" height="1.7" fill="#0a1600"/>
<rect x="333.0" y="394.35" width="14.85" height="1.7" fill="#0a1600"/>
<rect x="333.0" y="428.35" width="14.85" height="1.7" fill="#0a0022"/>
<rect x="333.0" y="430.35" width="14.85" height="1.7" fill="#2d0078"/>
<rect x="333.0" y="434.35" width="14.85" height="1.7" fill="#5f910c"/>
<rect x="333.0" y="436.35" width="14.85" height="1.7" fill="#0a1600"/>
<rect x="333.0" y="438.35" width="14.85" height="1.7" fill="#2d5004"/>
<rect x="333.0" y="444.35" width="14.85" height="1.7" fill="#2d5004"/>
<rect x="333.0" y="446.35" width="14.85" height="1.7" fill="#0a1600"/>
<rect x="333.0" y="448.35" width="14.85" height="1.7" fill="#96c816"/>
<rect x="333.0" y="450.35" width="14.85" height="1.7" fill="#c3eb1e"/>
<rect x="333.0" y="452.35" width="14.85" height="1.7" fill="#2d5004"/>
<rect x="333.0" y="456.35" width="14.85" height="1.7" fill="#0a1600"/>
<rect x="333.0" y="466.35" width="14.85" height="1.7" fill="#0a1600"/>
<rect x="333.0" y="470.35" width="14.85" height="1.7" fill="#2d5004"/>
<rect x="333.0" y="480.35" width="14.85" height="1.7" fill="#0a1600"/>
<rect x="333.0" y="484.35" width="14.85" height="1.7" fill="#0a1600"/>
<rect x="347.8" y="256.35" width="14.85" height="1.7" fill="#2d5004"/>
<rect x="347.8" y="258.35" width="14.85" height="1.7" fill="#5c0ac3"/>
<rect x="347.8" y="260.35" width="14.85" height="1.7" fill="#0a0022"/>
<rect x="347.8" y="262.35" width="14.85" height="1.7" fill="#2d0078"/>
<rect x="347.8" y="264.35" width="14.85" height="1.7" fill="#0a0022"/>
<rect x="347.8" y="268.35" width="14.85" height="1.7" fill="#8320e4"/>
<rect x="347.8" y="272.35" width="14.85" height="1.7" fill="#0a0022"/>
<rect x="347.8" y="274.35" width="14.85" height="1.7" fill="#5c0ac3"/>
<rect x="347.8" y="276.35" width="14.85" height="1.7" fill="#8320e4"/>
<rect x="347.8" y="278.35" width="14.85" height="1.7" fill="#0a0022"/>
<rect x="347.8" y="282.35" width="14.85" height="1.7" fill="#2d0078"/>
<rect x="347.8" y="284.35" width="14.85" height="1.7" fill="#0a0022"/>
<rect x="347.8" y="288.35" width="14.85" height="1.7" fill="#8320e4"/>
<rect x="347.8" y="290.35" width="14.85" height="1.7" fill="#2d0078"/>
<rect x="347.8" y="292.35" width="14.85" height="1.7" fill="#0a0022"/>
<rect x="347.8" y="314.35" width="14.85" height="1.7" fill="#0a0022"/>
<rect x="347.8" y="322.35" width="14.85" height="1.7" fill="#2d0078"/>
<rect x="347.8" y="328.35" width="14.85" height="1.7" fill="#0a1600"/>
<rect x="347.8" y="340.35" width="14.85" height="1.7" fill="#0a1600"/>
<rect x="347.8" y="344.35" width="14.85" height="1.7" fill="#5c0ac3"/>
<rect x="347.8" y="350.35" width="14.85" height="1.7" fill="#0a0022"/>
<rect x="347.8" y="360.35" width="14.85" height="1.7" fill="#5c0ac3"/>
<rect x="347.8" y="362.35" width="14.85" height="1.7" fill="#5c0ac3"/>
<rect x="347.8" y="364.35" width="14.85" height="1.7" fill="#5c0ac3"/>
<rect x="347.8" y="366.35" width="14.85" height="1.7" fill="#0a0022"/>
<rect x="347.8" y="368.35" width="14.85" height="1.7" fill="#5c0ac3"/>
<rect x="347.8" y="370.35" width="14.85" height="1.7" fill="#2d0078"/>
<rect x="347.8" y="374.35" width="14.85" height="1.7" fill="#0a0022"/>
<rect x="347.8" y="376.35" width="14.85" height="1.7" fill="#8320e4"/>
<rect x="347.8" y="378.35" width="14.85" height="1.7" fill="#8320e4"/>
<rect x="347.8" y="380.35" width="14.85" height="1.7" fill="#5c0ac3"/>
<rect x="347.8" y="382.35" width="14.85" height="1.7" fill="#2d0078"/>
<rect x="347.8" y="384.35" width="14.85" height="1.7" fill="#2d0078"/>
<rect x="347.8" y="388.35" width="14.85" height="1.7" fill="#5f910c"/>
<rect x="347.8" y="390.35" width="14.85" height="1.7" fill="#0a1600"/>
<rect x="347.8" y="392.35" width="14.85" height="1.7" fill="#2d5004"/>
<rect x="347.8" y="398.35" width="14.85" height="1.7" fill="#0a1600"/>
<rect x="347.8" y="400.35" width="14.85" height="1.7" fill="#5f910c"/>
<rect x="347.8" y="402.35" width="14.85" height="1.7" fill="#2d5004"/>
<rect x="347.8" y="404.35" width="14.85" height="1.7" fill="#5f910c"/>
<rect x="347.8" y="412.35" width="14.85" height="1.7" fill="#2d5004"/>
<rect x="347.8" y="414.35" width="14.85" height="1.7" fill="#5f910c"/>
<rect x="347.8" y="416.35" width="14.85" height="1.7" fill="#0a1600"/>
<rect x="347.8" y="418.35" width="14.85" height="1.7" fill="#2d5004"/>
<rect x="347.8" y="420.35" width="14.85" height="1.7" fill="#0a1600"/>
<rect x="347.8" y="422.35" width="14.85" height="1.7" fill="#96c816"/>
<rect x="347.8" y="424.35" width="14.85" height="1.7" fill="#96c816"/>
<rect x="347.8" y="426.35" width="14.85" height="1.7" fill="#5f910c"/>
<rect x="347.8" y="428.35" width="14.85" height="1.7" fill="#5f910c"/>
<rect x="347.8" y="430.35" width="14.85" height="1.7" fill="#2d5004"/>
<rect x="347.8" y="432.35" width="14.85" height="1.7" fill="#0a0022"/>
<rect x="347.8" y="434.35" width="14.85" height="1.7" fill="#5c0ac3"/>
<rect x="347.8" y="448.35" width="14.85" height="1.7" fill="#2d0078"/>
<rect x="347.8" y="456.35" width="14.85" height="1.7" fill="#96c816"/>
<rect x="347.8" y="458.35" width="14.85" height="1.7" fill="#96c816"/>
<rect x="347.8" y="460.35" width="14.85" height="1.7" fill="#5f910c"/>
<rect x="347.8" y="462.35" width="14.85" height="1.7" fill="#96c816"/>
<rect x="347.8" y="464.35" width="14.85" height="1.7" fill="#5f910c"/>
<rect x="347.8" y="468.35" width="14.85" height="1.7" fill="#0a1600"/>
<rect x="347.8" y="470.35" width="14.85" height="1.7" fill="#0a1600"/>
<rect x="347.8" y="474.35" width="14.85" height="1.7" fill="#0a1600"/>
<rect x="347.8" y="480.35" width="14.85" height="1.7" fill="#5f910c"/>
<rect x="347.8" y="482.35" width="14.85" height="1.7" fill="#2d5004"/>
<rect x="347.8" y="486.35" width="14.85" height="1.7" fill="#0a1600"/>
<rect x="347.8" y="494.35" width="14.85" height="1.7" fill="#5f910c"/>
<rect x="362.6" y="254.35" width="14.85" height="1.7" fill="#8320e4"/>
<rect x="362.6" y="260.35" width="14.85" height="1.7" fill="#5c0ac3"/>
<rect x="362.6" y="262.35" width="14.85" height="1.7" fill="#0a0022"/>
<rect x="362.6" y="264.35" width="14.85" height="1.7" fill="#5c0ac3"/>
<rect x="362.6" y="266.35" width="14.85" height="1.7" fill="#0a0022"/>
<rect x="362.6" y="270.35" width="14.85" height="1.7" fill="#5c0ac3"/>
<rect x="362.6" y="276.35" width="14.85" height="1.7" fill="#0a0022"/>
<rect x="362.6" y="282.35" width="14.85" height="1.7" fill="#0a0022"/>
<rect x="362.6" y="286.35" width="14.85" height="1.7" fill="#0a0022"/>
<rect x="362.6" y="288.35" width="14.85" height="1.7" fill="#2d0078"/>
<rect x="362.6" y="290.35" width="14.85" height="1.7" fill="#0a0022"/>
<rect x="362.6" y="292.35" width="14.85" height="1.7" fill="#2d5004"/>
<rect x="362.6" y="296.35" width="14.85" height="1.7" fill="#2d5004"/>
<rect x="362.6" y="302.35" width="14.85" height="1.7" fill="#0a0022"/>
<rect x="362.6" y="304.35" width="14.85" height="1.7" fill="#5c0ac3"/>
<rect x="362.6" y="306.35" width="14.85" height="1.7" fill="#2d0078"/>
<rect x="362.6" y="328.35" width="14.85" height="1.7" fill="#2d5004"/>
<rect x="362.6" y="330.35" width="14.85" height="1.7" fill="#96c816"/>
<rect x="362.6" y="332.35" width="14.85" height="1.7" fill="#5f910c"/>
<rect x="362.6" y="334.35" width="14.85" height="1.7" fill="#5f910c"/>
<rect x="362.6" y="338.35" width="14.85" height="1.7" fill="#0a1600"/>
<rect x="362.6" y="340.35" width="14.85" height="1.7" fill="#2d5004"/>
<rect x="362.6" y="344.35" width="14.85" height="1.7" fill="#2d0078"/>
<rect x="362.6" y="346.35" width="14.85" height="1.7" fill="#8320e4"/>
<rect x="362.6" y="348.35" width="14.85" height="1.7" fill="#5c0ac3"/>
<rect x="362.6" y="350.35" width="14.85" height="1.7" fill="#0a0022"/>
<rect x="362.6" y="354.35" width="14.85" height="1.7" fill="#2d0078"/>
<rect x="362.6" y="356.35" width="14.85" height="1.7" fill="#5c0ac3"/>
<rect x="362.6" y="362.35" width="14.85" height="1.7" fill="#0a0022"/>
<rect x="362.6" y="364.35" width="14.85" height="1.7" fill="#2d0078"/>
<rect x="362.6" y="368.35" width="14.85" height="1.7" fill="#5c0ac3"/>
<rect x="362.6" y="370.35" width="14.85" height="1.7" fill="#5c0ac3"/>
<rect x="362.6" y="372.35" width="14.85" height="1.7" fill="#2d0078"/>
<rect x="362.6" y="374.35" width="14.85" height="1.7" fill="#5c0ac3"/>
<rect x="362.6" y="376.35" width="14.85" height="1.7" fill="#8320e4"/>
<rect x="362.6" y="378.35" width="14.85" height="1.7" fill="#5c0ac3"/>
<rect x="362.6" y="380.35" width="14.85" height="1.7" fill="#0a0022"/>
<rect x="362.6" y="382.35" width="14.85" height="1.7" fill="#2d0078"/>
<rect x="362.6" y="388.35" width="14.85" height="1.7" fill="#96c816"/>
<rect x="362.6" y="390.35" width="14.85" height="1.7" fill="#5f910c"/>
<rect x="362.6" y="392.35" width="14.85" height="1.7" fill="#2d5004"/>
<rect x="362.6" y="394.35" width="14.85" height="1.7" fill="#0a1600"/>
<rect x="362.6" y="398.35" width="14.85" height="1.7" fill="#c3eb1e"/>
<rect x="362.6" y="400.35" width="14.85" height="1.7" fill="#5f910c"/>
<rect x="362.6" y="404.35" width="14.85" height="1.7" fill="#96c816"/>
<rect x="362.6" y="408.35" width="14.85" height="1.7" fill="#5f910c"/>
<rect x="362.6" y="410.35" width="14.85" height="1.7" fill="#2d5004"/>
<rect x="362.6" y="416.35" width="14.85" height="1.7" fill="#0a1600"/>
<rect x="362.6" y="420.35" width="14.85" height="1.7" fill="#0a1600"/>
<rect x="362.6" y="422.35" width="14.85" height="1.7" fill="#5f910c"/>
<rect x="362.6" y="428.35" width="14.85" height="1.7" fill="#0a1600"/>
<rect x="362.6" y="432.35" width="14.85" height="1.7" fill="#2d5004"/>
<rect x="362.6" y="446.35" width="14.85" height="1.7" fill="#0a1600"/>
<rect x="362.6" y="456.35" width="14.85" height="1.7" fill="#2d5004"/>
<rect x="362.6" y="458.35" width="14.85" height="1.7" fill="#5f910c"/>
<rect x="362.6" y="462.35" width="14.85" height="1.7" fill="#0a1600"/>
<rect x="362.6" y="466.35" width="14.85" height="1.7" fill="#0a0022"/>
<rect x="362.6" y="468.35" width="14.85" height="1.7" fill="#5f910c"/>
<rect x="362.6" y="472.35" width="14.85" height="1.7" fill="#0a1600"/>
<rect x="362.6" y="476.35" width="14.85" height="1.7" fill="#2d5004"/>
<rect x="362.6" y="478.35" width="14.85" height="1.7" fill="#0a1600"/>
<rect x="362.6" y="482.35" width="14.85" height="1.7" fill="#5f910c"/>
<rect x="362.6" y="490.35" width="14.85" height="1.7" fill="#0a1600"/>
<rect x="362.6" y="492.35" width="14.85" height="1.7" fill="#2d5004"/>
<rect x="377.4" y="258.35" width="14.85" height="1.7" fill="#0a0022"/>
<rect x="377.4" y="266.35" width="14.85" height="1.7" fill="#0a1600"/>
<rect x="377.4" y="274.35" width="14.85" height="1.7" fill="#2d0078"/>
<rect x="377.4" y="278.35" width="14.85" height="1.7" fill="#0a0022"/>
<rect x="377.4" y="280.35" width="14.85" height="1.7" fill="#5c0ac3"/>
<rect x="377.4" y="282.35" width="14.85" height="1.7" fill="#8320e4"/>
<rect x="377.4" y="288.35" width="14.85" height="1.7" fill="#5c0ac3"/>
<rect x="377.4" y="300.35" width="14.85" height="1.7" fill="#0a1600"/>
<rect x="377.4" y="302.35" width="14.85" height="1.7" fill="#0a1600"/>
<rect x="377.4" y="312.35" width="14.85" height="1.7" fill="#0a1600"/>
<rect x="377.4" y="314.35" width="14.85" height="1.7" fill="#0a0022"/>
<rect x="377.4" y="320.35" width="14.85" height="1.7" fill="#5c0ac3"/>
<rect x="377.4" y="330.35" width="14.85" height="1.7" fill="#0a1600"/>
<rect x="377.4" y="332.35" width="14.85" height="1.7" fill="#5f910c"/>
<rect x="377.4" y="334.35" width="14.85" height="1.7" fill="#5f910c"/>
<rect x="377.4" y="336.35" width="14.85" height="1.7" fill="#2d5004"/>
<rect x="377.4" y="340.35" width="14.85" height="1.7" fill="#0a1600"/>
<rect x="377.4" y="346.35" width="14.85" height="1.7" fill="#0a1600"/>
<rect x="377.4" y="348.35" width="14.85" height="1.7" fill="#5c0ac3"/>
<rect x="377.4" y="354.35" width="14.85" height="1.7" fill="#0a0022"/>
<rect x="377.4" y="360.35" width="14.85" height="1.7" fill="#5c0ac3"/>
<rect x="377.4" y="362.35" width="14.85" height="1.7" fill="#5c0ac3"/>
<rect x="377.4" y="366.35" width="14.85" height="1.7" fill="#0a0022"/>
<rect x="377.4" y="368.35" width="14.85" height="1.7" fill="#5c0ac3"/>
<rect x="377.4" y="376.35" width="14.85" height="1.7" fill="#0a0022"/>
<rect x="377.4" y="380.35" width="14.85" height="1.7" fill="#2d0078"/>
<rect x="377.4" y="386.35" width="14.85" height="1.7" fill="#5f910c"/>
<rect x="377.4" y="388.35" width="14.85" height="1.7" fill="#2d5004"/>
<rect x="377.4" y="390.35" width="14.85" height="1.7" fill="#0a1600"/>
<rect x="377.4" y="392.35" width="14.85" height="1.7" fill="#2d5004"/>
<rect x="377.4" y="396.35" width="14.85" height="1.7" fill="#5f910c"/>
<rect x="377.4" y="400.35" width="14.85" height="1.7" fill="#5f910c"/>
<rect x="377.4" y="402.35" width="14.85" height="1.7" fill="#2d5004"/>
<rect x="377.4" y="406.35" width="14.85" height="1.7" fill="#2d5004"/>
<rect x="377.4" y="416.35" width="14.85" height="1.7" fill="#2d5004"/>
<rect x="377.4" y="424.35" width="14.85" height="1.7" fill="#0a1600"/>
<rect x="377.4" y="428.35" width="14.85" height="1.7" fill="#5f910c"/>
<rect x="377.4" y="430.35" width="14.85" height="1.7" fill="#96c816"/>
<rect x="377.4" y="438.35" width="14.85" height="1.7" fill="#0a1600"/>
<rect x="377.4" y="450.35" width="14.85" height="1.7" fill="#2d0078"/>
<rect x="377.4" y="458.35" width="14.85" height="1.7" fill="#96c816"/>
<rect x="377.4" y="460.35" width="14.85" height="1.7" fill="#5f910c"/>
<rect x="377.4" y="464.35" width="14.85" height="1.7" fill="#2d5004"/>
<rect x="377.4" y="476.35" width="14.85" height="1.7" fill="#0a1600"/>
<rect x="377.4" y="478.35" width="14.85" height="1.7" fill="#5f910c"/>
<rect x="377.4" y="480.35" width="14.85" height="1.7" fill="#2d5004"/>
<rect x="377.4" y="488.35" width="14.85" height="1.7" fill="#0a1600"/>
<rect x="392.2" y="256.35" width="14.85" height="1.7" fill="#0a0022"/>
<rect x="392.2" y="268.35" width="14.85" height="1.7" fill="#0a0022"/>
<rect x="392.2" y="278.35" width="14.85" height="1.7" fill="#0a1600"/>
<rect x="392.2" y="292.35" width="14.85" height="1.7" fill="#0a1600"/>
<rect x="392.2" y="294.35" width="14.85" height="1.7" fill="#0a1600"/>
<rect x="392.2" y="302.35" width="14.85" height="1.7" fill="#2d5004"/>
<rect x="392.2" y="306.35" width="14.85" height="1.7" fill="#5c0ac3"/>
<rect x="392.2" y="314.35" width="14.85" height="1.7" fill="#5f910c"/>
<rect x="392.2" y="324.35" width="14.85" height="1.7" fill="#0a1600"/>
<rect x="392.2" y="328.35" width="14.85" height="1.7" fill="#5f910c"/>
<rect x="392.2" y="330.35" width="14.85" height="1.7" fill="#2d5004"/>
<rect x="392.2" y="332.35" width="14.85" height="1.7" fill="#96c816"/>
<rect x="392.2" y="334.35" width="14.85" height="1.7" fill="#96c816"/>
<rect x="392.2" y="336.35" width="14.85" height="1.7" fill="#c3eb1e"/>
<rect x="392.2" y="338.35" width="14.85" height="1.7" fill="#0a1600"/>
<rect x="392.2" y="340.35" width="14.85" height="1.7" fill="#2d5004"/>
<rect x="392.2" y="344.35" width="14.85" height="1.7" fill="#2d0078"/>
<rect x="392.2" y="346.35" width="14.85" height="1.7" fill="#5c0ac3"/>
<rect x="392.2" y="348.35" width="14.85" height="1.7" fill="#5c0ac3"/>
<rect x="392.2" y="368.35" width="14.85" height="1.7" fill="#0a0022"/>
<rect x="392.2" y="372.35" width="14.85" height="1.7" fill="#0a0022"/>
<rect x="392.2" y="388.35" width="14.85" height="1.7" fill="#0a1600"/>
<rect x="392.2" y="392.35" width="14.85" height="1.7" fill="#5f910c"/>
<rect x="392.2" y="396.35" width="14.85" height="1.7" fill="#0a1600"/>
<rect x="392.2" y="398.35" width="14.85" height="1.7" fill="#0a1600"/>
<rect x="392.2" y="406.35" width="14.85" height="1.7" fill="#0a1600"/>
<rect x="392.2" y="412.35" width="14.85" height="1.7" fill="#0a1600"/>
<rect x="392.2" y="416.35" width="14.85" height="1.7" fill="#0a1600"/>
<rect x="392.2" y="420.35" width="14.85" height="1.7" fill="#0a1600"/>
<rect x="392.2" y="422.35" width="14.85" height="1.7" fill="#5f910c"/>
<rect x="392.2" y="436.35" width="14.85" height="1.7" fill="#2d5004"/>
<rect x="392.2" y="438.35" width="14.85" height="1.7" fill="#5f910c"/>
<rect x="392.2" y="440.35" width="14.85" height="1.7" fill="#0a1600"/>
<rect x="392.2" y="442.35" width="14.85" height="1.7" fill="#5f910c"/>
<rect x="392.2" y="454.35" width="14.85" height="1.7" fill="#0a1600"/>
<rect x="392.2" y="464.35" width="14.85" height="1.7" fill="#0a1600"/>
<rect x="392.2" y="468.35" width="14.85" height="1.7" fill="#0a1600"/>
<rect x="392.2" y="476.35" width="14.85" height="1.7" fill="#2d0078"/>
<rect x="392.2" y="492.35" width="14.85" height="1.7" fill="#0a0022"/>
<rect x="407.0" y="256.35" width="14.85" height="1.7" fill="#2d5004"/>
<rect x="407.0" y="264.35" width="14.85" height="1.7" fill="#0a0022"/>
<rect x="407.0" y="294.35" width="14.85" height="1.7" fill="#0a0022"/>
<rect x="407.0" y="296.35" width="14.85" height="1.7" fill="#2d0078"/>
<rect x="407.0" y="310.35" width="14.85" height="1.7" fill="#0a0022"/>
<rect x="407.0" y="314.35" width="14.85" height="1.7" fill="#0a0022"/>
<rect x="407.0" y="316.35" width="14.85" height="1.7" fill="#0a0022"/>
<rect x="407.0" y="322.35" width="14.85" height="1.7" fill="#2d0078"/>
<rect x="407.0" y="326.35" width="14.85" height="1.7" fill="#8320e4"/>
<rect x="407.0" y="328.35" width="14.85" height="1.7" fill="#0a0022"/>
<rect x="407.0" y="334.35" width="14.85" height="1.7" fill="#5c0ac3"/>
<rect x="407.0" y="344.35" width="14.85" height="1.7" fill="#0a0022"/>
<rect x="407.0" y="346.35" width="14.85" height="1.7" fill="#2d5004"/>
<rect x="407.0" y="352.35" width="14.85" height="1.7" fill="#0a1600"/>
<rect x="407.0" y="356.35" width="14.85" height="1.7" fill="#2d5004"/>
<rect x="407.0" y="384.35" width="14.85" height="1.7" fill="#0a0022"/>
<rect x="407.0" y="394.35" width="14.85" height="1.7" fill="#0a0022"/>
<rect x="407.0" y="406.35" width="14.85" height="1.7" fill="#0a1600"/>
<rect x="407.0" y="414.35" width="14.85" height="1.7" fill="#2d5004"/>
<rect x="407.0" y="418.35" width="14.85" height="1.7" fill="#0a1600"/>
<rect x="407.0" y="420.35" width="14.85" height="1.7" fill="#2d5004"/>
<rect x="407.0" y="432.35" width="14.85" height="1.7" fill="#0a1600"/>
<rect x="407.0" y="434.35" width="14.85" height="1.7" fill="#0a0022"/>
<rect x="407.0" y="450.35" width="14.85" height="1.7" fill="#0a1600"/>
<rect x="407.0" y="452.35" width="14.85" height="1.7" fill="#2d5004"/>
<rect x="407.0" y="454.35" width="14.85" height="1.7" fill="#5f910c"/>
<rect x="407.0" y="456.35" width="14.85" height="1.7" fill="#5f910c"/>
<rect x="407.0" y="462.35" width="14.85" height="1.7" fill="#0a1600"/>
<rect x="407.0" y="464.35" width="14.85" height="1.7" fill="#2d5004"/>
<rect x="407.0" y="472.35" width="14.85" height="1.7" fill="#5f910c"/>
<rect x="407.0" y="484.35" width="14.85" height="1.7" fill="#2d5004"/>
<rect x="407.0" y="486.35" width="14.85" height="1.7" fill="#5f910c"/>
<rect x="407.0" y="488.35" width="14.85" height="1.7" fill="#96c816"/>
<rect x="407.0" y="490.35" width="14.85" height="1.7" fill="#5f910c"/>
<rect x="407.0" y="494.35" width="14.85" height="1.7" fill="#5f910c"/>
<rect x="421.8" y="256.35" width="14.85" height="1.7" fill="#0a0022"/>
<rect x="421.8" y="258.35" width="14.85" height="1.7" fill="#2d0078"/>
<rect x="421.8" y="260.35" width="14.85" height="1.7" fill="#5c0ac3"/>
<rect x="421.8" y="262.35" width="14.85" height="1.7" fill="#0a0022"/>
<rect x="421.8" y="264.35" width="14.85" height="1.7" fill="#0a0022"/>
<rect x="421.8" y="268.35" width="14.85" height="1.7" fill="#8320e4"/>
<rect x="421.8" y="278.35" width="14.85" height="1.7" fill="#0a0022"/>
<rect x="421.8" y="280.35" width="14.85" height="1.7" fill="#0a0022"/>
<rect x="421.8" y="282.35" width="14.85" height="1.7" fill="#5c0ac3"/>
<rect x="421.8" y="286.35" width="14.85" height="1.7" fill="#8320e4"/>
<rect x="421.8" y="290.35" width="14.85" height="1.7" fill="#0a0022"/>
<rect x="421.8" y="292.35" width="14.85" height="1.7" fill="#2d0078"/>
<rect x="421.8" y="298.35" width="14.85" height="1.7" fill="#8320e4"/>
<rect x="421.8" y="300.35" width="14.85" height="1.7" fill="#0a0022"/>
<rect x="421.8" y="314.35" width="14.85" height="1.7" fill="#0a0022"/>
<rect x="421.8" y="324.35" width="14.85" height="1.7" fill="#5c0ac3"/>
<rect x="421.8" y="342.35" width="14.85" height="1.7" fill="#5c0ac3"/>
<rect x="421.8" y="344.35" width="14.85" height="1.7" fill="#2d5004"/>
<rect x="421.8" y="364.35" width="14.85" height="1.7" fill="#0a0022"/>
<rect x="421.8" y="372.35" width="14.85" height="1.7" fill="#2d0078"/>
<rect x="421.8" y="374.35" width="14.85" height="1.7" fill="#5c0ac3"/>
<rect x="421.8" y="376.35" width="14.85" height="1.7" fill="#0a0022"/>
<rect x="421.8" y="384.35" width="14.85" height="1.7" fill="#5c0ac3"/>
<rect x="421.8" y="396.35" width="14.85" height="1.7" fill="#0a0022"/>
<rect x="421.8" y="406.35" width="14.85" height="1.7" fill="#0a1600"/>
<rect x="421.8" y="416.35" width="14.85" height="1.7" fill="#2d5004"/>
<rect x="421.8" y="418.35" width="14.85" height="1.7" fill="#5f910c"/>
<rect x="421.8" y="420.35" width="14.85" height="1.7" fill="#2d5004"/>
<rect x="421.8" y="430.35" width="14.85" height="1.7" fill="#0a1600"/>
<rect x="421.8" y="442.35" width="14.85" height="1.7" fill="#0a1600"/>
<rect x="421.8" y="456.35" width="14.85" height="1.7" fill="#5f910c"/>
<rect x="421.8" y="466.35" width="14.85" height="1.7" fill="#0a1600"/>
<rect x="421.8" y="470.35" width="14.85" height="1.7" fill="#5f910c"/>
<rect x="421.8" y="472.35" width="14.85" height="1.7" fill="#96c816"/>
<rect x="421.8" y="478.35" width="14.85" height="1.7" fill="#5f910c"/>
<rect x="421.8" y="480.35" width="14.85" height="1.7" fill="#5f910c"/>
<rect x="421.8" y="484.35" width="14.85" height="1.7" fill="#5f910c"/>
<rect x="421.8" y="486.35" width="14.85" height="1.7" fill="#5f910c"/>
<rect x="421.8" y="488.35" width="14.85" height="1.7" fill="#2d5004"/>
<rect x="421.8" y="490.35" width="14.85" height="1.7" fill="#96c816"/>
<rect x="421.8" y="492.35" width="14.85" height="1.7" fill="#5f910c"/>
<rect x="421.8" y="494.35" width="14.85" height="1.7" fill="#2d5004"/>
<text x="200.8" y="257.7" font-size="7.7" fill="#000" font-style="italic" stroke="#000" stroke-width="0.28">Izumo1r</text>
<text x="200.8" y="270.4" font-size="7.7" fill="#000" font-style="italic" stroke="#000" stroke-width="0.28">Gata1</text>
<text x="200.8" y="283.0" font-size="7.7" fill="#000" font-style="italic" stroke="#000" stroke-width="0.28">Stat1</text>
<text x="200.8" y="295.9" font-size="7.7" fill="#000" font-style="italic" stroke="#000" stroke-width="0.28">Il27ra</text>
<text x="200.8" y="308.3" font-size="7.7" fill="#000" font-style="italic" stroke="#000" stroke-width="0.28">Icam2</text>
<text x="200.8" y="320.9" font-size="7.7" fill="#000" font-style="italic" stroke="#000" stroke-width="0.28">Ccnd3</text>
<text x="200.8" y="333.8" font-size="7.7" fill="#000" font-style="italic" stroke="#000" stroke-width="0.28">Klrg1</text>
<text x="200.8" y="346.4" font-size="7.7" fill="#000" font-style="italic" stroke="#000" stroke-width="0.28">Nod2</text>
<text x="200.8" y="358.7" font-size="7.7" fill="#000" font-style="italic" stroke="#000" stroke-width="0.28">Gzmm</text>
<text x="200.8" y="371.7" font-size="7.7" fill="#000" font-style="italic" stroke="#000" stroke-width="0.28">Rara</text>
<text x="200.8" y="383.9" font-size="7.7" fill="#000" font-style="italic" stroke="#000" stroke-width="0.28">Tlr1</text>
<text x="200.8" y="396.8" font-size="7.7" fill="#000" font-style="italic" stroke="#000" stroke-width="0.28">Sell</text>
<text x="200.8" y="409.3" font-size="7.7" fill="#000" font-style="italic" stroke="#000" stroke-width="0.28">Il18r1</text>
<text x="200.8" y="422.0" font-size="7.7" fill="#000" font-style="italic" stroke="#000" stroke-width="0.28">Pdcd1</text>
<text x="200.8" y="434.6" font-size="7.7" fill="#000" font-style="italic" stroke="#000" stroke-width="0.28">Itgam</text>
<text x="200.8" y="447.3" font-size="7.7" fill="#000" font-style="italic" stroke="#000" stroke-width="0.28">Ccr9</text>
<text x="200.8" y="459.9" font-size="7.7" fill="#000" font-style="italic" stroke="#000" stroke-width="0.28">Ctla4</text>
<text x="200.8" y="472.7" font-size="7.7" fill="#000" font-style="italic" stroke="#000" stroke-width="0.28">Lag3</text>
<text x="200.8" y="485.4" font-size="7.7" fill="#000" font-style="italic" stroke="#000" stroke-width="0.28">Mtor</text>
<text x="200.8" y="497.9" font-size="7.7" fill="#000" font-style="italic" stroke="#000" stroke-width="0.28">Cd86</text>
<text x="450.6" y="268.0" font-size="7.7" fill="#000" font-style="italic" stroke="#000" stroke-width="0.28">Ctla4</text>
<text x="450.6" y="280.8" font-size="7.7" fill="#000" font-style="italic" stroke="#000" stroke-width="0.28">Il18r1</text>
<text x="450.6" y="293.0" font-size="7.7" fill="#000" font-style="italic" stroke="#000" stroke-width="0.28">Pdcd1</text>
<text x="450.6" y="306.4" font-size="7.7" fill="#000" stroke="#000" stroke-width="0.28">Il7r</text>
<text x="450.6" y="319.0" font-size="7.7" fill="#000" stroke="#000" stroke-width="0.28">Il4ra</text>
<text x="450.6" y="331.8" font-size="7.7" fill="#000" stroke="#000" stroke-width="0.28">Lyz2</text>
<text x="450.6" y="344.4" font-size="7.7" fill="#000" font-style="italic" stroke="#000" stroke-width="0.28">Ifngr2</text>
<text x="450.6" y="357.0" font-size="7.7" fill="#000" stroke="#000" stroke-width="0.28">Itga1</text>
<text x="450.6" y="369.6" font-size="7.7" fill="#000" stroke="#000" stroke-width="0.28">Ccr2</text>
<text x="450.6" y="382.5" font-size="7.7" fill="#000" stroke="#000" stroke-width="0.28">Itga4</text>
<text x="450.6" y="395.3" font-size="7.7" fill="#000" stroke="#000" stroke-width="0.28">Bcl6</text>
<text x="450.6" y="407.7" font-size="7.7" fill="#000" font-style="italic" stroke="#000" stroke-width="0.28">Tbx21</text>
<text x="450.6" y="420.5" font-size="7.7" fill="#000" font-style="italic" stroke="#000" stroke-width="0.28">Il27ra</text>
<text x="450.6" y="433.0" font-size="7.7" fill="#000" font-style="italic" stroke="#000" stroke-width="0.28">Tnfrsf25</text>
<text x="450.6" y="445.9" font-size="7.7" fill="#000" font-style="italic" stroke="#000" stroke-width="0.28">Socs1</text>
<text x="450.6" y="458.5" font-size="7.7" fill="#000" stroke="#000" stroke-width="0.28">Myc</text>
<text x="450.6" y="471.3" font-size="7.7" fill="#000" font-style="italic" stroke="#000" stroke-width="0.28">Ccne2</text>
<text x="450.6" y="483.9" font-size="7.7" fill="#000" font-style="italic" stroke="#000" stroke-width="0.28">Cdc6</text>
<text x="450.6" y="496.5" font-size="7.7" fill="#000" font-style="italic" stroke="#000" stroke-width="0.28">Pkmyt1</text>
<line x1="189.9" y1="256.7" x2="198.6" y2="255.7" stroke="#000" stroke-width="1.15"/>
<line x1="189.9" y1="257.1" x2="198.6" y2="267.6" stroke="#000" stroke-width="1.15"/>
<line x1="189.9" y1="267.3" x2="198.6" y2="280.6" stroke="#000" stroke-width="1.15"/>
<line x1="189.9" y1="270.3" x2="198.6" y2="292.8" stroke="#000" stroke-width="1.15"/>
<line x1="189.9" y1="274.2" x2="198.6" y2="305.0" stroke="#000" stroke-width="1.15"/>
<line x1="189.9" y1="286.0" x2="198.6" y2="317.5" stroke="#000" stroke-width="1.15"/>
<line x1="189.9" y1="300.0" x2="198.6" y2="330.2" stroke="#000" stroke-width="1.15"/>
<line x1="189.9" y1="316.5" x2="198.6" y2="342.8" stroke="#000" stroke-width="1.15"/>
<line x1="189.9" y1="319.5" x2="198.6" y2="355.3" stroke="#000" stroke-width="1.15"/>
<line x1="189.9" y1="337.0" x2="198.6" y2="367.8" stroke="#000" stroke-width="1.15"/>
<line x1="189.9" y1="337.8" x2="198.6" y2="380.3" stroke="#000" stroke-width="1.15"/>
<line x1="189.9" y1="362.0" x2="198.6" y2="393.0" stroke="#000" stroke-width="1.15"/>
<line x1="189.9" y1="362.6" x2="198.6" y2="405.6" stroke="#000" stroke-width="1.15"/>
<line x1="189.9" y1="363.4" x2="198.6" y2="418.2" stroke="#000" stroke-width="1.15"/>
<line x1="189.9" y1="395.0" x2="198.6" y2="430.8" stroke="#000" stroke-width="1.15"/>
<line x1="189.9" y1="404.2" x2="198.6" y2="443.5" stroke="#000" stroke-width="1.15"/>
<line x1="189.9" y1="458.1" x2="198.6" y2="456.9" stroke="#000" stroke-width="1.15"/>
<line x1="189.9" y1="479.6" x2="198.6" y2="468.8" stroke="#000" stroke-width="1.15"/>
<line x1="189.9" y1="479.6" x2="198.6" y2="481.8" stroke="#000" stroke-width="1.15"/>
<line x1="189.9" y1="494.5" x2="198.6" y2="494.5" stroke="#000" stroke-width="1.15"/>
<line x1="438.7" y1="265.4" x2="447.7" y2="265.4" stroke="#000" stroke-width="1.15"/>
<line x1="438.7" y1="287.2" x2="447.7" y2="278.1" stroke="#000" stroke-width="1.15"/>
<line x1="438.7" y1="290.1" x2="447.7" y2="291.5" stroke="#000" stroke-width="1.15"/>
<line x1="438.7" y1="314.8" x2="447.7" y2="303.9" stroke="#000" stroke-width="1.15"/>
<line x1="438.7" y1="327.6" x2="447.7" y2="316.2" stroke="#000" stroke-width="1.15"/>
<line x1="438.7" y1="335.5" x2="447.7" y2="328.9" stroke="#000" stroke-width="1.15"/>
<line x1="438.7" y1="337.3" x2="447.7" y2="341.9" stroke="#000" stroke-width="1.15"/>
<line x1="438.7" y1="348.4" x2="447.7" y2="355.3" stroke="#000" stroke-width="1.15"/>
<line x1="438.7" y1="358.6" x2="447.7" y2="368.2" stroke="#000" stroke-width="1.15"/>
<line x1="438.7" y1="362.9" x2="447.7" y2="380.5" stroke="#000" stroke-width="1.15"/>
<line x1="438.7" y1="372.1" x2="447.7" y2="392.6" stroke="#000" stroke-width="1.15"/>
<line x1="438.7" y1="400.9" x2="447.7" y2="405.9" stroke="#000" stroke-width="1.15"/>
<line x1="438.7" y1="400.9" x2="447.7" y2="418.0" stroke="#000" stroke-width="1.15"/>
<line x1="438.7" y1="421.0" x2="447.7" y2="430.9" stroke="#000" stroke-width="1.15"/>
<line x1="438.7" y1="432.4" x2="447.7" y2="443.5" stroke="#000" stroke-width="1.15"/>
<line x1="438.7" y1="459.3" x2="447.7" y2="455.4" stroke="#000" stroke-width="1.15"/>
<line x1="438.7" y1="467.7" x2="447.7" y2="469.8" stroke="#000" stroke-width="1.15"/>
<line x1="438.7" y1="478.9" x2="447.7" y2="481.9" stroke="#000" stroke-width="1.15"/>
<line x1="438.7" y1="493.4" x2="447.7" y2="493.4" stroke="#000" stroke-width="1.15"/>
<rect x="449.0" y="215.4" width="9.9" height="9.9" fill="#95a89f"/>
<text x="464.6" y="223.1" font-size="8.8" fill="#111" textLength="16.2" lengthAdjust="spacingAndGlyphs" stroke="#111" stroke-width="0.22">Tcon</text>
<rect x="449.0" y="225.22" width="9.9" height="9.9" fill="#0736ae"/>
<text x="464.6" y="232.92" font-size="8.8" fill="#1d4fbf" textLength="43.4" lengthAdjust="spacingAndGlyphs" stroke="#1d4fbf" stroke-width="0.22">Tcon+iNKT1</text>
<rect x="449.0" y="235.04" width="9.9" height="9.9" fill="#c9001c"/>
<text x="464.6" y="242.74" font-size="8.8" fill="#c8102e" textLength="43.4" lengthAdjust="spacingAndGlyphs" stroke="#c8102e" stroke-width="0.22">Tcon+iNKT2</text>
<rect x="449.0" y="244.86" width="9.9" height="9.9" fill="#42fd02"/>
<text x="464.6" y="252.56" font-size="8.8" fill="#44e010" textLength="47.6" lengthAdjust="spacingAndGlyphs" stroke="#44e010" stroke-width="0.22">Tcon+iNKT17</text>
<defs><linearGradient id="cb" x1="0" y1="0" x2="0" y2="1"><stop offset="0" stop-color="#e6f81e"/><stop offset="0.055" stop-color="#c8eb19"/><stop offset="0.13" stop-color="#a0cd14"/><stop offset="0.196" stop-color="#6ea00c"/><stop offset="0.243" stop-color="#507808"/><stop offset="0.29" stop-color="#284b02"/><stop offset="0.336" stop-color="#0f1e00"/><stop offset="0.383" stop-color="#000000"/><stop offset="0.66" stop-color="#000000"/><stop offset="0.69" stop-color="#14003c"/><stop offset="0.737" stop-color="#280082"/><stop offset="0.8" stop-color="#4b00be"/><stop offset="0.875" stop-color="#6e0ad7"/><stop offset="0.94" stop-color="#8c1ee6"/><stop offset="1" stop-color="#9b28eb"/></linearGradient></defs>
<rect x="492.1" y="389.1" width="6.9" height="107" fill="url(#cb)"/>
<text x="502.2" y="405.7" font-size="8.4" fill="#000" stroke="#000" stroke-width="0.3">2</text>
<text x="502.2" y="424.9" font-size="8.4" fill="#000" stroke="#000" stroke-width="0.3">1</text>
<text x="502.2" y="445.9" font-size="8.4" fill="#000" stroke="#000" stroke-width="0.3">0</text>
<text x="502.2" y="465.5" font-size="8.4" fill="#000" stroke="#000" stroke-width="0.3">-1</text>
<text x="502.2" y="484.5" font-size="8.4" fill="#000" stroke="#000" stroke-width="0.3">-2</text>
</g>
<rect x="0" y="0" width="520" height="1.2" fill="#000"/>
<rect x="0" y="0" width="1.2" height="506" fill="#000"/>
<rect x="518.3" y="0" width="1.7" height="506" fill="#000"/>
<rect x="0" y="504.3" width="520" height="1.7" fill="#000"/>
</svg>
</body></html>
